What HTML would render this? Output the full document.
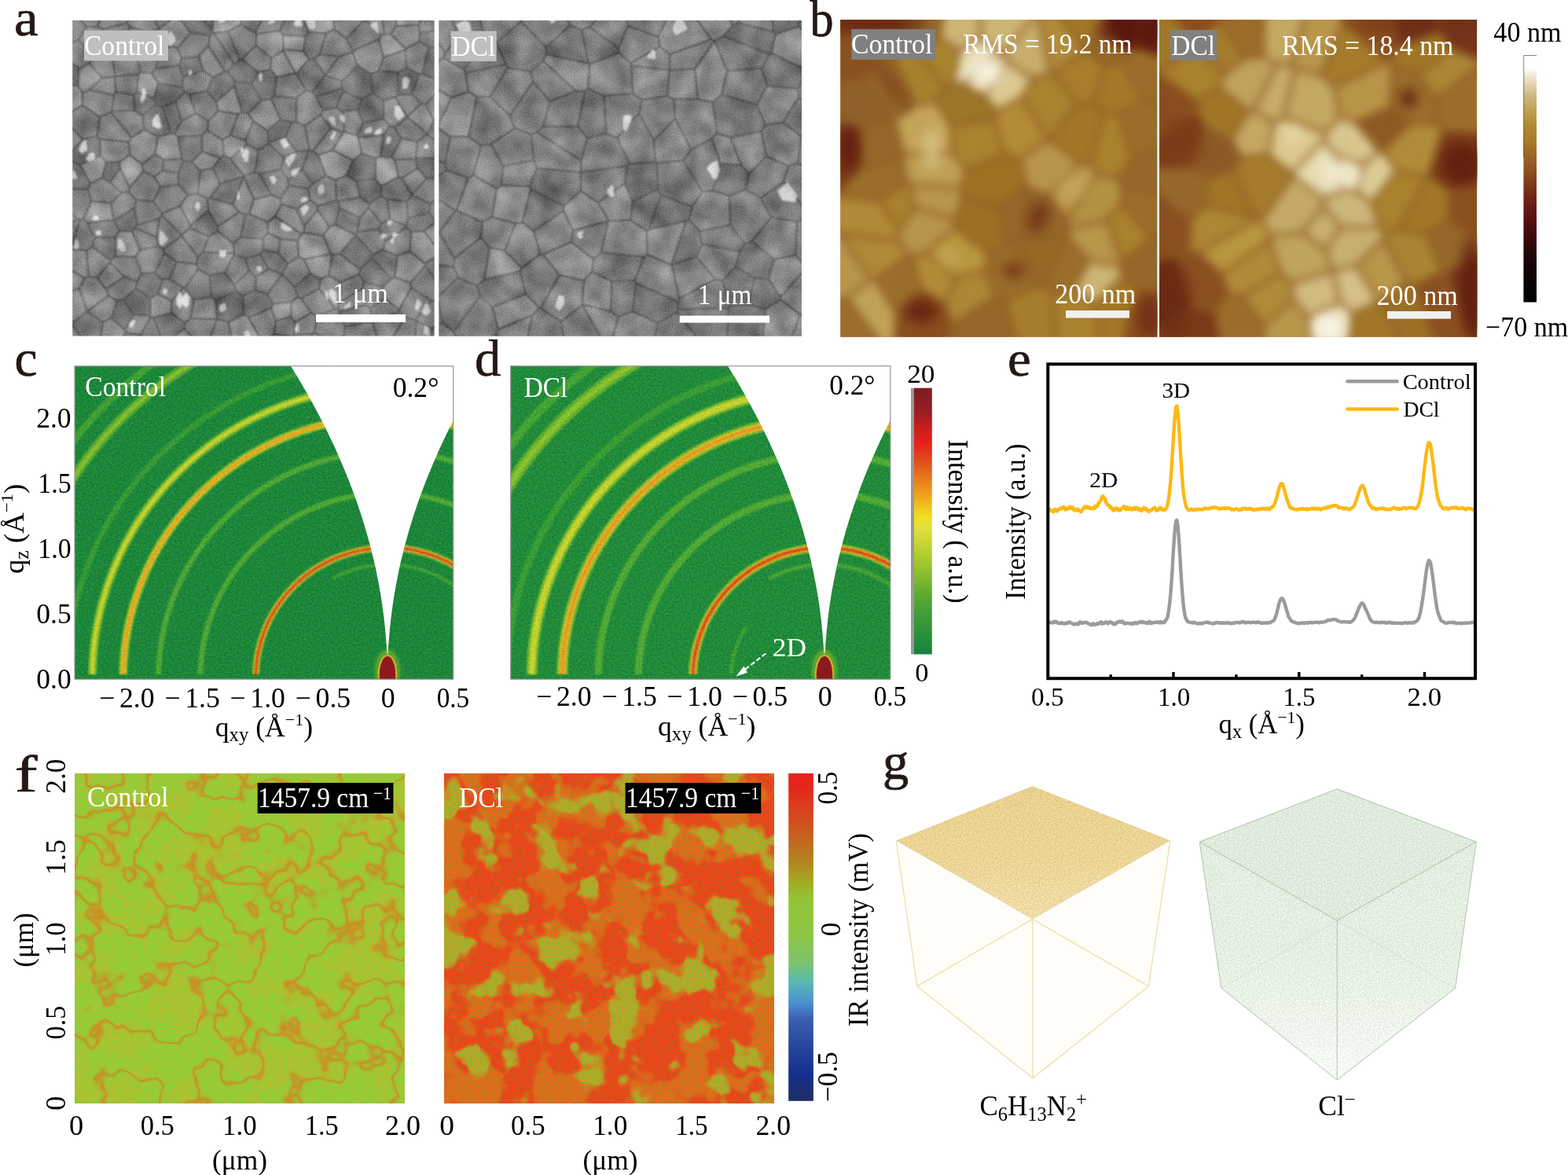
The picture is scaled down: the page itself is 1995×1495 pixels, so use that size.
<!DOCTYPE html>
<html lang="en">
<head>
<meta charset="utf-8">
<title>Figure: SEM, AFM, GIWAXS, IR and ToF-SIMS characterisation of Control and DCl films</title>
<style>
html,body{margin:0;padding:0;background:#fff;}
body{width:1995px;height:1495px;overflow:hidden;}
svg{display:block;}
text{font-family:"Liberation Serif","DejaVu Serif",serif;font-kerning:none;font-variant-ligatures:none;}
.pl{fill:#231815;stroke:#231815;stroke-width:0.7px;}
</style>
</head>
<body>
<svg width="1995" height="1495" viewBox="0 0 1995 1495">
<defs>
<filter id="semf" x="-2%" y="-2%" width="104%" height="104%" color-interpolation-filters="sRGB"><feGaussianBlur in="SourceGraphic" stdDeviation="0.9" result="b"/><feTurbulence type="fractalNoise" baseFrequency="0.035" numOctaves="2" seed="3" result="lo"/><feColorMatrix in="lo" type="matrix" values="1 0 0 0 0  1 0 0 0 0  1 0 0 0 0  0 0 0 0 1" result="log"/><feComposite in="b" in2="log" operator="arithmetic" k1="0" k2="1" k3="0.34" k4="-0.17" result="b2"/><feTurbulence type="fractalNoise" baseFrequency="0.75" numOctaves="2" seed="11" result="n"/><feColorMatrix in="n" type="matrix" values="0.5 0.5 0 0 0  0.5 0.5 0 0 0  0.5 0.5 0 0 0  0 0 0 0 1" result="ng"/><feComposite in="b2" in2="ng" operator="arithmetic" k1="0" k2="1" k3="0.36" k4="-0.18"/></filter><clipPath id="cla1"><rect x="92.2" y="26.1" width="460.5" height="401.5"/></clipPath><clipPath id="cla2"><rect x="558.3" y="26.1" width="461.7" height="401.7"/></clipPath><filter id="afmf" x="-20%" y="-20%" width="140%" height="140%" color-interpolation-filters="sRGB"><feGaussianBlur stdDeviation="6"/></filter><filter id="afmf2" x="-20%" y="-20%" width="140%" height="140%" color-interpolation-filters="sRGB"><feGaussianBlur stdDeviation="8"/></filter><clipPath id="clb1"><rect x="1069.3" y="25.1" width="403" height="403.6"/></clipPath><clipPath id="clb2"><rect x="1475" y="25.1" width="404.1" height="403.6"/></clipPath><linearGradient id="afmbar" x1="0" y1="0" x2="0" y2="1"><stop offset="0" stop-color="#ffffff"/><stop offset="0.05" stop-color="#ffffff"/><stop offset="0.095" stop-color="#ebe0c6"/><stop offset="0.158" stop-color="#d2ba84"/><stop offset="0.222" stop-color="#c0a052"/><stop offset="0.286" stop-color="#b08a32"/><stop offset="0.349" stop-color="#a87a28"/><stop offset="0.413" stop-color="#9a6424"/><stop offset="0.476" stop-color="#8a4c20"/><stop offset="0.54" stop-color="#7a3218"/><stop offset="0.604" stop-color="#6a1c14"/><stop offset="0.67" stop-color="#560e10"/><stop offset="0.728" stop-color="#400a0c"/><stop offset="0.827" stop-color="#1a0606"/><stop offset="0.954" stop-color="#050202"/><stop offset="1" stop-color="#000000"/></linearGradient><filter id="gwf" x="0" y="0" width="100%" height="100%" color-interpolation-filters="sRGB"><feGaussianBlur in="SourceGraphic" stdDeviation="0.9" result="b"/><feTurbulence type="fractalNoise" baseFrequency="0.4" numOctaves="2" seed="5" result="n"/><feColorMatrix in="n" type="matrix" values="1 0 0 0 0  0.8 0 0 0 0.1  0.3 0 0 0 0.35  0 0 0 0 1" result="nc"/><feComposite in="b" in2="nc" operator="arithmetic" k1="0" k2="1" k3="0.22" k4="-0.11"/></filter><filter id="bl2"><feGaussianBlur stdDeviation="2"/></filter><clipPath id="clipc"><rect x="95" y="465.8" width="481.79999999999995" height="398.40000000000003"/></clipPath><clipPath id="clipd"><rect x="649.7" y="465.7" width="483.20000000000005" height="398.50000000000006"/></clipPath><linearGradient id="gbar" x1="0" y1="0" x2="0" y2="1"><stop offset="0" stop-color="#7c1c22"/><stop offset="0.09" stop-color="#9a1e24"/><stop offset="0.165" stop-color="#d41e1c"/><stop offset="0.21" stop-color="#e8221a"/><stop offset="0.27" stop-color="#e04a1c"/><stop offset="0.35" stop-color="#e8801c"/><stop offset="0.41" stop-color="#f0a81c"/><stop offset="0.485" stop-color="#f0e020"/><stop offset="0.53" stop-color="#e0e040"/><stop offset="0.61" stop-color="#b8d030"/><stop offset="0.69" stop-color="#90c030"/><stop offset="0.78" stop-color="#5aa830"/><stop offset="0.87" stop-color="#3a9a38"/><stop offset="0.96" stop-color="#208a3c"/><stop offset="1" stop-color="#1a8040"/></linearGradient><filter id="irc" x="0" y="0" width="100%" height="100%" color-interpolation-filters="sRGB"><feTurbulence type="fractalNoise" baseFrequency="0.016" numOctaves="3" seed="7" result="t"/><feFlood flood-color="#98ca36" result="bg"/><feColorMatrix in="t" type="matrix" values="0 0 0 0 0.714  0 0 0 0 0.737  0 0 0 0 0.180  0 4 0 0 -1.5" result="m0"/><feComponentTransfer in="m0" result="v0"><feFuncA type="table" tableValues="0 0 0 0 0 0.2 0.4 0.5 0.5"/></feComponentTransfer><feColorMatrix in="t" type="matrix" values="0 0 0 0 0.816  0 0 0 0 0.549  0 0 0 0 0.133  4 0 0 0 -1.5" result="m1"/><feComponentTransfer in="m1" result="v1"><feFuncA type="table" tableValues="0 0 0 0.2 0.6 0.2 0 0 0"/></feComponentTransfer><feColorMatrix in="t" type="matrix" values="0 0 0 0 0.878  0 0 0 0 0.416  0 0 0 0 0.110  4 0 0 0 -1.5" result="m2"/><feComponentTransfer in="m2" result="v2"><feFuncA type="table" tableValues="0 0 0 0 0.35 0 0 0 0"/></feComponentTransfer><feMerge result="mg"><feMergeNode in="bg"/><feMergeNode in="v0"/><feMergeNode in="v1"/><feMergeNode in="v2"/></feMerge><feTurbulence type="fractalNoise" baseFrequency="0.42" numOctaves="2" seed="10" result="n"/><feColorMatrix in="n" type="matrix" values="2.0 0 0 0 -0.5  -0.8 0 0 0 0.9  0 0 0.3 0 0.35  0 0 0 0 1" result="nc"/><feComposite in="mg" in2="nc" operator="arithmetic" k1="0" k2="1" k3="0.3" k4="-0.15"/></filter><filter id="ird" x="0" y="0" width="100%" height="100%" color-interpolation-filters="sRGB"><feTurbulence type="fractalNoise" baseFrequency="0.022" numOctaves="3" seed="23" result="t"/><feFlood flood-color="#e64a1a" result="bg"/><feColorMatrix in="t" type="matrix" values="0 0 0 0 0.831  0 0 0 0 0.471  0 0 0 0 0.110  0 -4 0 0 2.5" result="m0"/><feComponentTransfer in="m0" result="v0"><feFuncA type="table" tableValues="0 0 0 0 0.2 0.5 0.7 0.8 0.8"/></feComponentTransfer><feColorMatrix in="t" type="matrix" values="0 0 0 0 0.722  0 0 0 0 0.627  0 0 0 0 0.149  3 0 0 0 -1.0" result="m1"/><feComponentTransfer in="m1" result="v1"><feFuncA type="table" tableValues="0 0 0 0 0 0 0.25 0.75 0.9"/></feComponentTransfer><feColorMatrix in="t" type="matrix" values="0 0 0 0 0.612  0 0 0 0 0.737  0 0 0 0 0.188  3 0 0 0 -1.0" result="m2"/><feComponentTransfer in="m2" result="v2"><feFuncA type="table" tableValues="0 0 0 0 0 0 0 0 0.5"/></feComponentTransfer><feMerge result="mg"><feMergeNode in="bg"/><feMergeNode in="v0"/><feMergeNode in="v1"/><feMergeNode in="v2"/></feMerge><feTurbulence type="fractalNoise" baseFrequency="0.42" numOctaves="2" seed="26" result="n"/><feColorMatrix in="n" type="matrix" values="2.0 0 0 0 -0.5  -0.8 0 0 0 0.9  0 0 0.3 0 0.35  0 0 0 0 1" result="nc"/><feComposite in="mg" in2="nc" operator="arithmetic" k1="0" k2="1" k3="0.5" k4="-0.25"/></filter><linearGradient id="irbar" x1="0" y1="0" x2="0" y2="1"><stop offset="0" stop-color="#e8241c"/><stop offset="0.04" stop-color="#e5261b"/><stop offset="0.12" stop-color="#d8441e"/><stop offset="0.2" stop-color="#c4651f"/><stop offset="0.28" stop-color="#b08a20"/><stop offset="0.34" stop-color="#a0b024"/><stop offset="0.38" stop-color="#93c435"/><stop offset="0.5" stop-color="#8cc646"/><stop offset="0.58" stop-color="#7cc270"/><stop offset="0.64" stop-color="#56b8b5"/><stop offset="0.7" stop-color="#4a90d0"/><stop offset="0.75" stop-color="#3a5fb0"/><stop offset="0.82" stop-color="#2a4a9e"/><stop offset="0.92" stop-color="#142f8c"/><stop offset="1" stop-color="#1f2f60"/></linearGradient><filter id="cubn" x="0" y="0" width="100%" height="100%" color-interpolation-filters="sRGB"><feTurbulence type="fractalNoise" baseFrequency="0.55" numOctaves="2" seed="17" result="n"/><feColorMatrix in="n" type="matrix" values="1 0 0 0 0  1 0 0 0 0  1 0 0 0 0  0 0 0 0 1" result="ng"/><feComposite in="SourceGraphic" in2="ng" operator="arithmetic" k1="0" k2="1" k3="0.22" k4="-0.11" result="c"/><feComposite in="c" in2="SourceGraphic" operator="in"/></filter><linearGradient id="c1g" x1="0" y1="0" x2="0" y2="1"><stop offset="0" stop-color="#ead08e"/><stop offset="0.6" stop-color="#ecd596"/><stop offset="1" stop-color="#f1dda8"/></linearGradient><linearGradient id="clg" x1="0" y1="0" x2="0" y2="1"><stop offset="0" stop-color="#e2eedf"/><stop offset="0.45" stop-color="#e4efe1"/><stop offset="0.75" stop-color="#edf4eb"/><stop offset="1" stop-color="#f8fbf7"/></linearGradient>
</defs>
<rect x="0" y="0" width="1995" height="1495" fill="#ffffff"/>
<g id="panel-a">
<g clip-path="url(#cla1)">
<g filter="url(#semf)">
<rect x="87.2" y="21.1" width="470.5" height="411.5" fill="#848484"/>
<path d="M227 16L226 19L202 37L201 37L188 3L213 5ZM267 45L270 42L270 38L243 8L237 6L227 16L226 19L242 42ZM546 60L537 94L554 100L576 87L575 80L562 61ZM101 87L99 109L75 107L64 100L58 89L87 77ZM286 91L271 98L263 116L275 130L298 110L299 104L290 91ZM305 76L298 81L290 91L299 104L320 106L329 92L308 75ZM344 88L329 92L320 106L333 128L345 126L349 122L352 98ZM414 96L397 117L402 123L435 113L435 103ZM472 94L474 118L460 127L436 116L435 113L435 103L455 84ZM482 90L506 92L507 121L503 124L488 128L474 118L472 94ZM507 121L524 120L533 94L517 86L506 92ZM235 117L224 129L207 136L198 133L196 125L201 106L232 111ZM308 143L298 110L299 104L320 106L333 128L316 144ZM488 128L488 151L462 157L455 139L460 127L474 118ZM183 165L181 147L198 133L207 136L218 170L201 174ZM342 181L340 166L357 152L371 156L363 174ZM86 198L89 204L102 210L128 198L127 177L124 173L105 177ZM244 206L233 205L231 202L226 174L257 172L257 193ZM153 214L140 232L130 226L135 206L152 206ZM393 191L384 215L398 234L415 224L405 197L398 192L394 191ZM453 230L478 228L478 201L460 195L449 204L441 223ZM529 201L563 202L565 226L565 227L543 227L531 214L529 202ZM453 230L478 228L485 237L485 249L470 259L458 251ZM171 264L145 281L152 294L168 294L172 290L175 286ZM147 302L147 326L141 331L117 314L120 302ZM458 343L432 323L453 299L453 299L475 324L473 328ZM457 349L463 359L487 365L498 355L473 328L458 343ZM587 356L589 353L589 332L579 321L559 322L554 327L581 354ZM267 350L286 347L298 362L301 371L274 382L269 378ZM170 400L159 420L142 405L149 382L157 381ZM173 367L157 381L170 400L191 402L191 379ZM276 406L276 406L291 410L310 400L309 376L301 371L274 382ZM66 429L92 414L93 410L81 396L60 401ZM215 434L206 433L195 404L218 398L235 411L234 418ZM192 442L188 450L168 451L156 430L160 423L179 426Z" fill="#747474" stroke="#525252" stroke-width="1.6" stroke-linejoin="round"/>
<path d="M292 6L289 -8L294 -15L303 -16L326 -3L307 24ZM100 51L110 34L100 22L82 18L77 26L82 52L89 56ZM243 8L270 38L272 17L264 3ZM393 41L389 46L360 45L356 39L365 17L377 11L381 14ZM533 53L546 60L562 61L570 42L570 36L534 42ZM231 74L228 83L233 98L259 90L253 72ZM399 75L393 75L377 94L389 115L397 117L414 96L414 96ZM181 147L198 133L196 125L174 117L170 121L171 140ZM402 123L435 113L436 116L428 137L411 140ZM222 170L231 154L224 129L207 136L218 170ZM543 171L562 186L578 160L577 153L573 150L552 154L544 170ZM502 162L496 160L488 172L484 199L498 200L511 176ZM102 210L115 233L112 241L87 240L80 231L89 204ZM244 206L233 205L227 220L227 235L239 248L252 247L255 217ZM367 229L357 215L330 221L345 248L357 253L368 236ZM419 289L404 267L404 262L428 255L430 256L432 265L426 286ZM485 284L469 264L470 259L485 249L493 254L496 280ZM524 248L517 256L519 278L546 270L547 259ZM547 259L546 270L554 283L563 285L574 258L569 245ZM277 294L277 288L265 268L242 287L241 290L266 301ZM312 273L306 302L335 304L341 296L341 282L317 272ZM426 286L432 265L458 277L455 295L453 299L453 299ZM517 289L517 287L519 278L546 270L554 283L539 294L523 295ZM498 355L502 353L506 325L487 318L475 324L473 328ZM207 355L201 374L191 379L173 367L174 358L180 348L197 347ZM247 381L269 378L267 350L252 342L235 366ZM325 369L326 352L317 344L298 362L301 371L309 376ZM587 356L586 365L561 383L556 382L554 356L581 354ZM347 387L340 374L325 369L309 376L310 400L316 404L345 392ZM509 397L474 410L474 410L471 392L490 379L508 394ZM111 396L93 410L92 414L106 433L127 438L131 410ZM206 433L195 404L192 403L179 426L192 442ZM438 426L421 435L417 449L417 449L436 457L453 447L452 441Z" fill="#7a7a7a" stroke="#525252" stroke-width="1.6" stroke-linejoin="round"/>
<path d="M534 42L532 32L535 25L535 25L570 21L572 30L570 36ZM407 69L415 42L393 41L389 46L386 65L393 75L399 75ZM119 71L134 65L142 69L147 97L146 98L130 99L113 81ZM173 71L179 92L193 93L199 87L201 70L188 58ZM267 45L270 42L272 42L298 81L290 91L286 91L265 58ZM431 72L449 66L455 84L435 103L414 96L414 96ZM170 121L147 117L146 98L147 97L176 94L174 117ZM233 98L232 111L201 106L193 93L199 87L228 83ZM542 133L536 132L524 120L533 94L537 94L554 100L554 120ZM554 120L554 100L576 87L579 89L581 92L583 124L575 130ZM377 155L371 156L357 152L345 126L349 122L377 125ZM455 139L460 127L436 116L428 137L436 142ZM454 172L456 175L488 172L496 160L488 151L462 157ZM312 179L314 184L329 191L342 183L342 181L340 166L322 154ZM342 183L361 201L378 193L363 174L342 181ZM393 191L378 193L363 174L371 156L377 155L388 160L394 191ZM310 225L280 234L271 214L280 201L285 198L293 202L311 224L310 225ZM342 183L329 191L324 219L330 221L357 215L361 201ZM393 191L378 193L361 201L357 215L367 229L384 215ZM296 260L310 225L280 234L267 252ZM524 247L511 227L507 225L485 237L485 249L493 254L517 256L524 248ZM458 251L470 259L469 264L458 277L432 265L430 256ZM145 281L152 294L147 302L120 302L111 283L145 280ZM91 317L90 315L67 301L54 320L83 334ZM111 283L106 279L102 279L90 315L91 317L110 319L117 314L120 302ZM581 354L554 327L541 335L541 338L554 356ZM379 378L375 365L359 349L340 374L347 387L371 384ZM408 355L395 348L375 365L379 378L383 380L406 367ZM487 365L490 379L471 392L464 388L461 367L463 359ZM556 382L549 383L523 366L522 360L541 338L554 356ZM149 382L142 405L131 410L111 396L111 396L138 376ZM247 381L243 405L235 411L218 398L218 383L233 366L235 366ZM265 435L275 442L296 437L291 410L276 406ZM335 434L349 425L372 428L375 448L351 461L337 451Z" fill="#7f7f7f" stroke="#525252" stroke-width="1.6" stroke-linejoin="round"/>
<path d="M571 16L536 -9L535 -9L535 25L570 21ZM324 41L344 8L328 -4L326 -3L307 24L307 31ZM489 44L497 43L504 33L504 10L501 4L495 1L485 12ZM125 34L110 34L100 51L119 71L134 65L131 37ZM189 42L188 58L201 70L218 58L202 37L201 37ZM267 45L242 42L226 61L231 74L253 72L265 58ZM305 76L298 81L272 42L290 40ZM305 76L290 40L307 31L324 41L326 43L326 58L308 75ZM425 37L415 42L407 69L431 72L449 66L449 65L441 49ZM441 49L449 65L482 50L486 45L464 25ZM173 71L179 92L176 94L147 97L142 69L159 63ZM407 69L431 72L414 96L399 75ZM482 90L506 92L517 86L516 63L488 73ZM533 53L516 62L516 63L517 86L533 94L537 94L546 60ZM233 98L232 111L235 117L241 120L263 116L271 98L259 90ZM352 98L349 122L377 125L389 115L377 94L376 93ZM171 140L170 121L147 117L145 121L142 142ZM241 120L249 144L231 154L224 129L235 117ZM241 120L249 144L265 154L278 141L275 130L263 116ZM389 115L377 125L377 155L388 160L408 146L411 140L402 123L397 117ZM518 149L536 132L524 120L507 121L503 124L518 149ZM542 133L552 154L573 150L575 130L554 120ZM74 166L55 142L57 139L74 135L92 141L87 158ZM87 158L92 141L105 134L127 149L124 173L105 177ZM183 165L181 147L171 140L142 142L141 143L167 175ZM222 170L226 174L257 172L264 166L265 154L249 144L231 154ZM312 179L322 154L316 144L308 143L303 145L293 172ZM454 172L462 157L455 139L436 142L438 168ZM518 149L544 170L543 171L531 180L511 176L502 162L518 149ZM529 201L531 180L543 171L562 186L566 192L563 202ZM197 196L181 209L182 218L196 225L207 217L208 203ZM208 203L231 202L233 205L227 220L207 217ZM529 202L502 203L507 225L511 227L531 214ZM155 245L140 232L130 226L115 233L112 241L116 256L141 258ZM153 214L140 232L155 245L164 244L165 239ZM196 225L204 238L227 235L227 220L207 217ZM267 252L280 234L271 214L255 217L252 247L264 253ZM323 254L345 248L330 221L324 219L311 224L310 225ZM384 215L367 229L368 236L392 240L398 234ZM543 227L524 247L524 248L547 259L569 245L570 238L569 231L565 227ZM82 252L87 240L112 241L116 256L106 279L102 279L99 279L86 268ZM173 254L164 244L155 245L141 258L145 280L145 281L171 264ZM206 274L203 278L175 286L171 264L173 254L195 256L206 272ZM206 272L229 262L239 248L227 235L204 238L195 256ZM368 236L357 253L358 260L377 266L395 254L392 240ZM404 262L404 267L387 288L377 266L395 254ZM496 280L493 254L517 256L519 278L517 287ZM59 273L56 280L56 284L67 296L99 279L86 268ZM99 279L67 296L67 301L90 315L102 279ZM203 278L199 302L172 290L175 286ZM297 310L306 302L312 273L304 270L277 288L277 294ZM490 307L517 289L517 287L496 280L485 284L482 291ZM172 290L199 302L202 313L178 318L168 294ZM258 321L252 327L231 300L231 299L241 290L266 301ZM298 322L298 324L312 329L331 324L335 318L335 304L306 302L297 310ZM357 304L341 296L335 304L335 318L354 322ZM487 318L490 307L482 291L455 295L453 299L475 324ZM487 318L506 325L522 320L523 295L517 289L490 307ZM174 358L158 352L140 334L141 331L147 326L172 327L180 348ZM209 322L208 317L202 313L178 318L172 327L180 348L197 347ZM207 355L197 347L209 322L225 333L215 355ZM235 366L233 366L215 355L225 333L250 336L252 342ZM267 350L286 347L298 324L298 322L258 321L252 327L250 336L252 342ZM298 324L286 347L298 362L317 344L312 329ZM312 329L317 344L326 352L342 342L331 324ZM366 335L359 349L342 342L331 324L335 318L354 322ZM395 348L387 330L380 326L366 335L359 349L359 349L375 365ZM457 349L433 359L418 350L423 324L432 323L458 343ZM108 354L101 367L77 375L65 357L83 339ZM173 367L157 381L149 382L138 376L135 368L158 352L174 358ZM207 355L201 374L218 383L233 366L215 355ZM340 374L359 349L359 349L342 342L326 352L325 369ZM427 393L403 402L396 398L383 380L406 367ZM474 410L439 415L432 396L464 388L471 392ZM509 397L515 404L528 407L549 383L523 366L508 394ZM556 382L549 383L528 407L529 408L550 418L574 407L561 383ZM179 426L160 423L159 420L170 400L191 402L192 403ZM252 437L265 435L276 406L276 406L243 405L235 411L234 418ZM345 392L351 408L349 425L335 434L332 432L316 404ZM429 393L427 393L403 402L400 423L421 435L438 426L439 415L432 396ZM474 410L480 429L452 441L438 426L439 415L474 410ZM515 404L528 407L529 408L528 440L524 442L497 434ZM529 408L528 440L549 444L550 442L550 418ZM585 418L585 413L574 407L550 418L550 442L570 437ZM66 429L92 414L106 433L94 454L78 449L65 430ZM417 449L394 450L397 424L400 423L421 435ZM480 429L491 436L491 442L467 474L453 447L452 441Z" fill="#848484" stroke="#525252" stroke-width="1.6" stroke-linejoin="round"/>
<path d="M535 -9L535 25L535 25L504 10L501 4L529 -9ZM125 34L110 34L100 22L113 -4L129 12ZM326 43L356 39L365 17L347 8L344 8L324 41ZM431 11L458 11L464 20L464 25L441 49L425 37L424 19ZM119 71L100 51L89 56L87 77L101 87L113 81ZM231 74L228 83L199 87L201 70L218 58L226 61ZM482 90L488 73L482 50L449 65L449 66L455 84L472 94ZM141 143L127 149L105 134L105 118L114 114L145 121L142 142ZM167 175L141 143L127 149L124 173L127 177L164 181ZM293 172L283 178L264 166L265 154L278 141L303 145ZM394 191L388 160L408 146L421 163L398 192ZM264 166L257 172L257 193L280 201L285 198L283 178ZM398 192L421 163L437 168L423 191L405 197ZM529 201L531 180L511 176L498 200L502 203L529 202ZM314 184L293 202L311 224L324 219L329 191ZM196 225L204 238L195 256L173 254L164 244L165 239L182 218ZM398 234L392 240L395 254L404 262L428 255L427 229L415 224ZM453 230L458 251L430 256L428 255L427 229L441 223ZM531 214L511 227L524 247L543 227ZM265 268L242 287L229 262L239 248L252 247L264 253ZM296 260L267 252L264 253L265 268L277 288L304 270ZM206 274L231 299L231 300L208 317L202 313L199 302L203 278ZM206 274L231 299L241 290L242 287L229 262L206 272ZM379 306L384 298L350 275L341 282L341 296L357 304ZM419 289L404 267L387 288L387 296L411 300ZM482 291L485 284L469 264L458 277L455 295ZM558 319L567 289L563 285L554 283L539 294ZM225 333L250 336L252 327L231 300L208 317L209 322ZM110 319L113 352L108 354L83 339L83 334L91 317ZM110 319L117 314L141 331L140 334L124 353L113 352ZM113 352L124 353L135 368L138 376L111 396L101 367L108 354ZM457 349L433 359L432 385L461 367L463 359ZM111 396L93 410L81 396L76 379L77 375L101 367L111 396ZM461 367L432 385L429 393L432 396L464 388ZM156 430L160 423L159 420L142 405L131 410L127 438L130 440ZM375 410L374 427L372 428L349 425L351 408L370 403ZM400 423L397 424L374 427L375 410L396 398L403 402ZM509 397L515 404L497 434L491 436L480 429L474 410ZM397 424L394 450L387 456L375 448L372 428L374 427Z" fill="#888888" stroke="#525252" stroke-width="1.6" stroke-linejoin="round"/>
<path d="M162 29L131 37L125 34L129 12L148 3L163 20ZM162 29L165 34L189 42L201 37L188 3L185 1L163 20ZM464 20L485 12L489 44L486 45L464 25ZM162 29L165 34L159 63L142 69L134 65L131 37ZM165 34L159 63L173 71L188 58L189 42ZM226 61L218 58L202 37L226 19L242 42ZM326 58L345 74L360 64L361 63L360 45L356 39L326 43ZM533 53L516 62L497 43L504 33L532 32L534 42ZM265 58L286 91L271 98L259 90L253 72ZM308 75L329 92L344 88L345 74L326 58ZM345 74L344 88L352 98L376 93L360 64ZM113 81L130 99L114 114L105 118L99 109L101 87ZM147 117L146 98L130 99L114 114L145 121ZM196 125L201 106L193 93L179 92L176 94L174 117ZM518 149L503 124L488 128L488 151L496 160L502 162ZM322 154L340 166L357 152L345 126L333 128L316 144ZM437 168L438 168L436 142L428 137L411 140L408 146L421 163ZM518 149L536 132L542 133L552 154L544 170ZM74 166L70 174L69 191L86 198L105 177L87 158ZM152 206L135 206L128 198L127 177L164 181L165 197ZM197 196L201 174L183 165L167 175L164 181L165 197L181 209ZM312 179L314 184L293 202L285 198L283 178L293 172ZM488 172L484 199L478 201L460 195L456 175ZM141 258L116 256L106 279L111 283L145 280ZM296 260L310 225L310 225L323 254L317 272L312 273L304 270ZM387 296L384 298L350 275L358 260L377 266L387 288ZM298 322L258 321L266 301L277 294L297 310ZM379 306L380 326L366 335L354 322L357 304ZM423 324L432 323L453 299L426 286L419 289L411 300L421 323ZM506 325L502 353L522 360L541 338L541 335L522 320ZM140 334L124 353L135 368L158 352ZM432 385L433 359L418 350L408 355L406 367L427 393L429 393ZM195 404L218 398L218 383L201 374L191 379L191 402L192 403ZM247 381L243 405L276 406L274 382L269 378ZM371 384L347 387L345 392L351 408L370 403ZM379 378L371 384L370 403L375 410L396 398L383 380ZM215 434L234 418L252 437L246 455L222 449Z" fill="#8d8d8d" stroke="#525252" stroke-width="1.6" stroke-linejoin="round"/>
<path d="M290 40L272 42L270 42L270 38L272 17L292 6L307 24L307 31ZM424 19L418 16L381 14L393 41L415 42L425 37ZM504 10L504 33L532 32L535 25ZM389 46L360 45L361 63L386 65ZM488 73L516 63L516 62L497 43L489 44L486 45L482 50ZM360 64L361 63L386 65L393 75L377 94L376 93ZM75 107L99 109L105 118L105 134L92 141L74 135ZM308 143L298 110L275 130L278 141L303 145ZM197 196L201 174L218 170L222 170L226 174L231 202L208 203ZM423 191L449 204L460 195L456 175L454 172L438 168L437 168ZM130 226L115 233L102 210L128 198L135 206ZM181 209L165 197L152 206L153 214L165 239L182 218ZM244 206L257 193L280 201L271 214L255 217ZM405 197L423 191L449 204L441 223L427 229L415 224ZM498 200L484 199L478 201L478 228L485 237L507 225L502 203ZM317 272L341 282L350 275L358 260L357 253L345 248L323 254ZM168 294L178 318L172 327L147 326L147 302L152 294ZM421 323L387 330L380 326L379 306L384 298L387 296L411 300ZM522 320L541 335L554 327L559 322L558 319L539 294L523 295ZM408 355L395 348L387 330L421 323L423 324L418 350ZM487 365L490 379L508 394L523 366L522 360L502 353L498 355ZM316 404L332 432L297 438L296 437L291 410L310 400Z" fill="#949494" stroke="#525252" stroke-width="1.6" stroke-linejoin="round"/>
<path d="M326 26L332 16L327 13L327 13L321 21L321 23ZM185 126L186 119L185 113L182 112L181 113L180 123ZM446 383L438 390L437 393L438 394L447 391ZM540 413L539 425L546 427L546 426L546 417ZM301 251L303 241L303 241L305 250L304 255L304 255L302 254ZM533 8L533 17L533 17L526 13L525 11L531 8ZM377 195L371 196L364 200L363 206L367 213L373 206ZM332 92L330 93L329 97L331 104L333 103L333 102L334 95ZM393 263L393 266L386 275L382 265L389 260ZM232 378L231 389L229 393L224 386L224 379L228 371L229 371ZM341 31L349 29L351 22L346 19L346 19L341 30ZM95 218L98 225L97 228L92 227L91 225L92 216ZM316 421L320 430L312 431L312 431L310 423L315 420ZM242 379L240 389L237 392L231 386L231 379L237 372L237 372ZM496 174L494 173L492 176L491 183L495 183L498 177ZM420 176L425 166L428 168L425 176L421 178ZM282 328L286 327L289 319L289 319L280 318L279 320L279 323L279 325ZM371 294L372 291L360 283L357 285L357 290L363 294ZM90 360L88 365L80 367L77 361L83 355ZM236 441L240 436L243 442L242 446L237 445ZM543 386L541 386L536 397L536 397L542 402L548 397L545 387ZM194 160L194 152L199 145L202 146L206 162L201 164ZM382 213L377 214L372 216L370 221L373 225L379 221ZM380 422L379 422L375 423L375 416L379 411L380 413ZM125 275L119 274L117 280L118 281L126 281ZM428 383L428 371L422 367L419 369L418 375L426 387L426 387ZM158 49L160 51L157 64L150 67L146 65L145 53ZM539 189L540 184L542 182L545 185L546 187L545 189ZM194 44L193 50L198 55L203 51L198 42L198 42ZM255 264L251 270L248 262L250 257L253 257L255 259ZM439 157L439 157L439 148L437 146L432 147L432 149L435 155ZM169 416L164 415L164 414L167 408L173 408L173 408ZM515 147L508 134L502 136L502 147L505 152L508 153ZM205 293L214 304L214 305L205 313L203 311L202 306L204 294ZM494 288L500 283L500 282L496 280L493 281L493 284ZM109 202L110 204L113 206L121 202L120 195L119 194L114 195ZM356 180L362 189L368 185L363 175L356 178ZM501 303L507 298L507 298L502 296L500 297L499 299ZM285 28L279 29L279 29L278 27L279 17L285 11L290 20L290 23ZM471 31L480 27L482 42L481 43L471 33ZM155 304L157 314L156 318L150 317L150 307L151 304ZM463 169L464 170L472 169L474 165L472 161L465 164ZM181 131L184 126L184 123L180 121L179 122L179 129ZM88 353L86 357L79 360L75 354L81 349ZM385 250L382 255L382 256L387 258L392 255L391 251ZM497 308L499 310L501 309L501 302L501 301L497 305ZM208 367L207 373L210 375L214 370L210 367ZM279 396L279 396L283 397L288 394L287 387L286 385L279 388ZM240 89L240 92L240 97L245 94L244 89ZM326 339L327 344L330 346L334 343L331 338ZM351 227L349 223L342 225L346 233L349 235L352 229ZM218 59L214 58L208 48L218 39L224 50ZM528 392L529 394L532 396L537 386L531 379L528 390ZM401 26L399 25L389 24L392 36L398 37L401 35ZM208 18L208 19L202 23L202 23L199 15L205 15ZM426 160L427 159L426 150L424 148L418 149L418 151L422 158ZM99 306L97 304L96 304L93 316L93 316L98 317L100 316L101 312ZM158 309L160 317L159 320L153 320L153 311L155 309ZM417 379L417 371L415 369L414 370L413 374L416 382L417 382ZM313 189L307 197L312 207L316 205L317 192ZM405 238L404 240L404 245L407 248L413 245L412 236L409 234ZM100 190L101 193L104 196L111 191L110 180L110 178L105 180ZM512 113L518 113L522 101L516 97L512 100ZM207 296L212 305L212 305L208 312L206 311L206 306L207 297ZM214 12L214 14L206 21L205 21L201 7L210 8ZM310 189L311 190L307 195L306 194L306 188L307 187ZM476 171L477 172L484 171L486 167L484 163L478 166ZM128 293L129 297L128 299L123 299L121 294L128 293ZM385 32L384 34L375 33L374 31L377 20L381 18L382 19ZM486 305L493 300L493 299L488 297L485 298L484 300Z" fill="#e0e0e0" opacity="0.8"/>
</g></g>
<g clip-path="url(#cla2)">
<g filter="url(#semf)">
<rect x="553.3" y="21.1" width="471.7" height="411.7" fill="#828282"/>
<path d="M593 5L569 14L584 46L617 49L607 9ZM979 3L1002 -13L1020 -0L1016 34L987 43L984 40ZM590 88L619 51L617 49L584 46L566 67L564 74ZM787 67L750 82L749 81L740 38L750 34L787 61ZM979 69L981 67L987 43L984 40L939 29L932 33L920 46ZM969 87L976 109L1015 113L1028 90L981 67L979 69ZM1065 109L1033 87L1028 90L1015 113L1016 124L1047 145L1065 119ZM735 161L744 116L748 113L769 122L771 170L747 176ZM912 170L907 130L918 120L963 133L974 159L969 167L929 175ZM674 237L683 214L739 219L739 219L739 243L718 262L675 241ZM795 233L798 211L801 208L834 206L836 207L837 240L805 256ZM943 210L953 221L949 241L928 249L907 243L917 208ZM679 294L664 283L675 241L718 262L717 268ZM805 256L837 240L841 248L826 292L823 294L802 280ZM826 292L841 248L881 263L877 279L873 281ZM893 311L890 294L877 279L873 281L854 337L855 337L886 327ZM941 320L948 310L929 286L890 294L893 311ZM936 339L960 354L978 355L985 330L957 307L948 310L941 320ZM863 394L862 397L837 411L805 396L809 360L863 384ZM936 339L960 354L952 387L929 389L919 357ZM929 389L927 392L925 429L970 435L974 393L952 387Z" fill="#767676" stroke="#525252" stroke-width="1.6" stroke-linejoin="round"/>
<path d="M552 -5L522 -17L511 -10L502 30L519 39L544 33L563 13ZM795 4L793 11L799 33L837 47L857 9L797 3ZM1045 55L1016 34L1020 -0L1045 -8L1064 3ZM592 93L644 82L632 54L619 51L590 88ZM695 69L749 81L740 38L725 32L695 60ZM969 87L925 90L909 52L920 46L979 69ZM1016 124L996 156L1019 173L1050 163L1050 162L1047 145ZM836 207L869 204L894 244L881 263L841 248L837 240ZM906 176L879 190L869 204L894 244L907 243L917 208ZM981 277L968 252L997 231L1023 264L1021 278L1021 279L1014 282ZM778 358L808 357L820 327L765 321L755 330L753 346ZM611 376L577 422L563 411L556 379L583 353L607 364ZM611 376L627 391L669 374L662 345L616 356L607 364ZM777 396L787 403L805 396L809 360L808 357L778 358ZM919 357L929 389L927 392L863 394L863 384L864 380L910 355ZM952 387L974 393L993 381L993 378L978 355L960 354ZM611 376L627 391L634 419L632 425L592 446L586 442L577 422ZM862 397L892 436L862 458L829 446L837 411Z" fill="#7a7a7a" stroke="#525252" stroke-width="1.6" stroke-linejoin="round"/>
<path d="M793 11L762 22L750 34L787 61L799 33ZM644 82L646 86L675 91L691 77L695 69L695 60L663 27L632 54ZM691 77L733 116L700 129L678 104L675 91ZM969 87L976 109L963 133L918 120L925 90ZM607 123L624 123L649 147L655 163L625 183L612 185L596 174ZM530 162L525 168L524 192L566 208L573 174L556 162ZM747 176L771 170L785 175L801 208L798 211L739 219L739 219L739 204ZM1050 163L1060 191L1033 217L1015 208L1019 173ZM581 268L579 268L538 240L568 216L596 226ZM602 223L612 185L625 183L640 211L638 236L632 240ZM761 258L795 233L798 211L739 219L739 243ZM949 241L968 252L997 231L1004 211L975 199L953 221ZM928 249L929 286L948 310L957 307L981 277L968 252L949 241ZM614 282L612 302L578 329L559 296L579 268L581 268ZM729 293L774 281L765 321L755 330L727 308ZM1030 342L1063 317L1021 279L1014 282L1012 325L1026 341ZM583 353L577 339L542 337L522 349L534 374L556 379ZM668 446L684 450L718 437L714 409L688 392L686 392L677 401ZM733 452L718 437L714 409L741 388L770 439L758 447ZM632 425L656 448L648 473L639 481L598 469L592 446Z" fill="#7e7e7e" stroke="#525252" stroke-width="1.6" stroke-linejoin="round"/>
<path d="M607 9L617 49L619 51L632 54L663 27L665 7L649 -11L643 -13ZM699 -1L665 7L663 27L695 60L725 32L714 4ZM738 -14L762 22L750 34L740 38L725 32L714 4ZM979 3L984 40L939 29L956 -2ZM840 59L837 47L799 33L787 61L787 67L802 80ZM852 89L803 84L802 80L840 59L852 69ZM884 88L909 52L905 50L852 69L852 89L852 89ZM596 117L592 93L644 82L646 86L624 123L607 123ZM646 86L624 123L649 147L678 104L675 91ZM852 89L852 89L803 84L805 119L817 127L849 122ZM575 124L556 162L530 162L523 141L539 103ZM683 168L676 171L655 163L649 147L678 104L700 129L691 161ZM691 161L700 129L733 116L744 116L735 161ZM805 119L769 122L771 170L785 175L813 144L817 127ZM849 122L817 127L813 144L832 179L859 151L857 126ZM888 126L907 130L912 170L906 176L879 190L859 151L857 126ZM1016 124L996 156L974 159L963 133L976 109L1015 113ZM596 226L568 216L566 208L573 174L596 174L612 185L602 223ZM640 211L625 183L655 163L676 171L679 204ZM683 168L676 171L679 204L683 214L739 219L739 204ZM683 168L739 204L747 176L735 161L691 161ZM801 208L834 206L832 179L813 144L785 175ZM929 175L969 167L975 199L953 221L943 210ZM524 192L515 229L528 239L538 240L568 216L566 208ZM638 236L640 211L679 204L683 214L674 237ZM579 268L538 240L528 239L521 293L534 297L559 296ZM559 296L534 297L542 337L577 339L578 329ZM985 330L957 307L981 277L1014 282L1012 325ZM607 364L616 356L623 315L612 302L578 329L577 339L583 353ZM669 374L686 392L688 392L712 350L691 324L687 323L664 341L662 345ZM886 327L855 337L864 380L910 355ZM936 339L919 357L910 355L886 327L893 311L941 320ZM777 396L787 403L778 435L770 439L741 388L741 387ZM927 392L925 429L911 441L892 436L862 397L863 394ZM1018 400L1001 445L1026 458L1067 425L1066 420L1042 397Z" fill="#828282" stroke="#525252" stroke-width="1.6" stroke-linejoin="round"/>
<path d="M803 84L805 119L769 122L748 113L750 82L787 67L802 80ZM884 88L852 89L849 122L857 126L888 126ZM969 167L974 159L996 156L1019 173L1015 208L1004 211L975 199ZM1015 208L1004 211L997 231L1023 264L1041 231L1033 217ZM761 258L795 233L805 256L802 280L774 281ZM928 249L929 286L890 294L877 279L881 263L894 244L907 243ZM1073 270L1066 237L1041 231L1023 264L1021 278ZM729 293L717 268L679 294L687 323L691 324L727 308ZM765 321L820 327L824 324L823 294L802 280L774 281L774 281ZM863 384L809 360L808 357L820 327L824 324L854 337L855 337L864 380ZM556 379L534 374L512 396L529 420L563 411ZM741 387L741 388L714 409L688 392L712 350L743 357ZM805 396L787 403L778 435L817 455L829 446L837 411ZM993 381L974 393L970 435L978 443L994 446L1001 445L1018 400Z" fill="#858585" stroke="#525252" stroke-width="1.6" stroke-linejoin="round"/>
<path d="M584 46L566 67L544 33L563 13L569 14ZM852 69L905 50L875 9L861 7L857 9L837 47L840 59ZM537 89L529 85L519 39L544 33L566 67L564 74ZM575 124L596 117L592 93L590 88L564 74L537 89L539 103ZM695 69L749 81L750 82L748 113L744 116L733 116L691 77ZM834 206L832 179L859 151L879 190L869 204L836 207ZM626 276L632 240L602 223L596 226L581 268L614 282ZM626 276L656 284L642 319L623 315L612 302L614 282ZM687 323L664 341L642 319L656 284L664 283L679 294ZM826 292L873 281L854 337L824 324L823 294ZM1083 277L1085 290L1075 316L1063 317L1021 279L1021 278L1073 270ZM1026 341L1012 325L985 330L978 355L993 378ZM1030 342L1049 369L1042 397L1018 400L993 381L993 378L1026 341ZM577 422L586 442L545 459L528 423L529 420L563 411ZM632 425L656 448L668 446L677 401L634 419ZM954 478L978 443L970 435L925 429L911 441L915 459L941 475Z" fill="#898989" stroke="#525252" stroke-width="1.6" stroke-linejoin="round"/>
<path d="M932 33L939 29L956 -2L948 -18L932 -24L915 -17ZM909 52L909 52L920 46L932 33L915 -17L898 -18L875 9L905 50ZM1045 56L1033 87L1028 90L981 67L987 43L1016 34L1045 55ZM884 88L909 52L909 52L925 90L918 120L907 130L888 126ZM575 124L596 117L607 123L596 174L573 174L556 162ZM912 170L929 175L943 210L917 208L906 176ZM626 276L656 284L664 283L675 241L674 237L638 236L632 240ZM729 293L717 268L718 262L739 243L761 258L774 281L774 281ZM662 345L664 341L642 319L623 315L616 356ZM753 346L755 330L727 308L691 324L712 350L743 357ZM627 391L669 374L686 392L677 401L634 419ZM777 396L778 358L753 346L743 357L741 387Z" fill="#8e8e8e" stroke="#525252" stroke-width="1.6" stroke-linejoin="round"/>
<path d="M834 76L823 74L823 72L831 62L834 67ZM772 242L779 234L781 241L781 250L775 250ZM912 204L903 209L899 214L908 228L912 228L916 216ZM995 253L992 246L999 239L1006 249L1006 253L1006 253L1004 254ZM801 146L793 147L793 165L797 167L803 155L804 149ZM995 255L989 243L1002 232L1014 248L1013 255L1013 256L1010 257ZM552 281L542 270L540 270L538 291L541 293L547 292ZM591 26L580 31L586 46L602 47L597 28ZM735 296L742 293L741 303L739 305L734 300ZM704 5L694 8L694 17L703 31L712 19L709 7ZM860 45L875 37L867 21L863 20L862 21L856 36L857 41ZM718 388L717 388L712 396L706 390L711 375L718 377ZM624 441L627 447L626 453L625 455L620 452L620 446ZM1072 273L1073 279L1071 289L1069 289L1061 274L1061 274L1070 271Z" fill="#e0e0e0" opacity="0.8"/>
</g></g>
<rect x="107" y="38.7" width="107" height="38.6" fill="#c0bfbd"/>
<rect x="573.7" y="39.5" width="58" height="38.4" fill="#c0bfbd"/>
<rect x="402" y="400" width="114" height="10" fill="#fff"/>
<rect x="864.7" y="401.6" width="114.3" height="9" fill="#fff"/>
</g>
<g id="panel-b">
<g clip-path="url(#clb1)">
<rect x="1069.3" y="25.1" width="403" height="403.6" fill="#905c24"/>
<g filter="url(#afmf)" stroke="#905c24" stroke-width="4" stroke-linejoin="round">
<path d="M1221 65L1195 48L1213 -53L1246 -42L1248 48Z" fill="#cdb576"/>
<path d="M1276 70L1320 15L1326 -12L1324 -46L1246 -42L1248 48L1273 69Z" fill="#cdb576"/>
<path d="M1276 70L1320 15L1336 93L1313 100L1281 78Z" fill="#c8ae6c"/>
<path d="M1378 63L1340 94L1336 93L1320 15L1326 -12L1378 63Z" fill="#b08c3c"/>
<path d="M1378 63L1407 27L1418 -44L1329 -50L1324 -46L1326 -12Z" fill="#a07628"/>
<path d="M1136 71L1120 75L1027 -18L1095 -51L1136 -42L1150 58Z" fill="#8a5020"/>
<path d="M1120 75L1027 -18L1026 -18L993 51L1008 113L1098 101Z" fill="#8a5020"/>
<path d="M1165 61L1195 48L1213 -53L1212 -54L1136 -42L1150 58Z" fill="#94682a"/>
<path d="M1191 129L1163 134L1136 71L1150 58L1165 61L1203 112Z" fill="#a6822e"/>
<path d="M1203 112L1213 106L1221 65L1195 48L1165 61Z" fill="#a88430"/>
<path d="M1163 134L1139 153L1134 152L1098 101L1120 75L1136 71Z" fill="#94682a"/>
<path d="M1098 101L1008 113L1004 140L1095 163L1134 152Z" fill="#90602a"/>
<path d="M1139 153L1134 152L1095 163L1095 215L1148 200L1150 197Z" fill="#946828"/>
<path d="M1118 255L1063 249L1095 215L1148 200L1154 231Z" fill="#9a6e2a"/>
<path d="M1063 249L1019 267L1013 267L990 168L1004 140L1095 163L1095 215Z" fill="#7a3a18"/>
<path d="M1191 129L1210 160L1210 193L1150 197L1139 153L1163 134Z" fill="#c4a458"/>
<path d="M1210 193L1150 197L1148 200L1154 231L1157 234L1223 239L1229 216Z" fill="#c0a054"/>
<path d="M1225 251L1215 279L1164 264L1157 234L1223 239Z" fill="#b8964a"/>
<path d="M1278 196L1229 216L1210 193L1210 160L1265 151Z" fill="#a8842f"/>
<path d="M1252 121L1268 141L1265 151L1210 160L1191 129L1203 112L1213 106L1226 107Z" fill="#9c7628"/>
<path d="M1300 124L1333 178L1297 203L1278 196L1265 151L1268 141Z" fill="#b28c36"/>
<path d="M1340 94L1370 132L1335 178L1333 178L1300 124L1313 100L1336 93Z" fill="#a88430"/>
<path d="M1252 121L1281 78L1276 70L1273 69L1226 107Z" fill="#e2d4a0"/>
<path d="M1226 107L1213 106L1221 65L1248 48L1273 69Z" fill="#e6dab0"/>
<path d="M1252 121L1268 141L1300 124L1313 100L1281 78Z" fill="#dcc890"/>
<path d="M1391 134L1406 143L1424 145L1456 129L1427 78L1406 83Z" fill="#a27a2a"/>
<path d="M1378 63L1406 83L1391 134L1370 132L1340 94Z" fill="#a67e2c"/>
<path d="M1427 78L1456 129L1533 129L1539 92L1444 62L1433 67Z" fill="#9a6e2a"/>
<path d="M1386 210L1406 143L1424 145L1440 201L1423 229L1397 220Z" fill="#a8822e"/>
<path d="M1386 210L1406 143L1391 134L1370 132L1335 178L1375 208Z" fill="#a07828"/>
<path d="M1424 145L1456 129L1533 129L1548 168L1440 201Z" fill="#9a6e2a"/>
<path d="M1386 210L1397 220L1358 279L1334 249L1375 208Z" fill="#bc9a4c"/>
<path d="M1309 240L1334 249L1375 208L1335 178L1333 178L1297 203L1307 238Z" fill="#b8944a"/>
<path d="M1397 220L1423 229L1428 239L1426 259L1408 280L1361 291L1358 279Z" fill="#b49244"/>
<path d="M1307 238L1297 203L1278 196L1229 216L1223 239L1225 251L1270 263Z" fill="#9c7224"/>
<path d="M1282 310L1257 323L1215 290L1215 279L1225 251L1270 263Z" fill="#9a7024"/>
<path d="M1309 240L1303 303L1292 310L1282 310L1270 263L1307 238Z" fill="#94682a"/>
<path d="M1118 255L1063 249L1019 267L1068 297L1144 307L1144 292Z" fill="#b08a38"/>
<path d="M1156 325L1114 356L1108 356L1068 297L1144 307Z" fill="#b08a38"/>
<path d="M1164 264L1144 292L1118 255L1154 231L1157 234Z" fill="#a8822e"/>
<path d="M1215 279L1215 290L1179 321L1161 326L1156 325L1144 307L1144 292L1164 264Z" fill="#b8944a"/>
<path d="M1215 290L1179 321L1216 354L1253 344L1257 323Z" fill="#b8963e"/>
<path d="M1253 344L1216 354L1202 387L1212 413L1267 377Z" fill="#ac8836"/>
<path d="M1161 326L1171 368L1202 387L1216 354L1179 321Z" fill="#b08c38"/>
<path d="M1292 310L1322 363L1327 363L1358 301L1357 300L1303 303Z" fill="#946a24"/>
<path d="M1309 240L1334 249L1358 279L1361 291L1357 300L1303 303Z" fill="#94682a"/>
<path d="M1357 300L1361 291L1408 280L1427 334L1425 339L1385 332L1358 301Z" fill="#b8964a"/>
<path d="M1426 259L1465 303L1427 334L1408 280Z" fill="#a8822e"/>
<path d="M1428 239L1543 251L1552 286L1545 300L1465 303L1426 259Z" fill="#9a6e2a"/>
<path d="M1114 356L1141 401L1136 457L1078 380L1108 356Z" fill="#c0a256"/>
<path d="M1108 356L1078 380L998 380L999 286L1013 267L1019 267L1068 297Z" fill="#b8964a"/>
<path d="M1078 380L998 380L988 403L1012 485L1095 506L1141 484L1136 457Z" fill="#9a6e2a"/>
<path d="M1141 401L1171 368L1202 387L1212 413L1195 490L1141 484L1136 457Z" fill="#8a4e1e"/>
<path d="M1156 325L1114 356L1141 401L1171 368L1161 326Z" fill="#9a6e2a"/>
<path d="M1292 310L1322 363L1278 382L1267 377L1253 344L1257 323L1282 310Z" fill="#9a6e2a"/>
<path d="M1327 363L1340 374L1346 490L1329 497L1311 492L1278 382L1322 363Z" fill="#a47e2c"/>
<path d="M1366 368L1340 374L1346 490L1405 484L1394 387Z" fill="#a8822e"/>
<path d="M1394 387L1405 484L1411 485L1449 370L1429 351Z" fill="#a07828"/>
<path d="M1278 382L1311 492L1212 501L1195 490L1212 413L1267 377Z" fill="#946828"/>
<path d="M1366 368L1385 332L1425 339L1429 351L1394 387Z" fill="#ccb472"/>
<path d="M1327 363L1340 374L1366 368L1385 332L1358 301Z" fill="#9a6e2a"/>
<path d="M1449 370L1542 374L1553 403L1524 481L1447 500L1411 485Z" fill="#8a4e1e"/>
<path d="M1465 303L1545 300L1542 374L1449 370L1429 351L1425 339L1427 334Z" fill="#94682a"/>
<path d="M1433 67L1444 62L1472 -41L1447 -52L1418 -44L1407 27Z" fill="#5e1a0e"/>
<path d="M1444 62L1472 -41L1526 -28L1554 51L1539 92Z" fill="#641e10"/>
<path d="M1378 63L1406 83L1427 78L1433 67L1407 27L1378 63Z" fill="#94682a"/>
<path d="M1423 229L1440 201L1548 168L1548 168L1543 251L1428 239Z" fill="#94682a"/>
</g><g filter="url(#afmf2)">
<ellipse cx="1108" cy="30" rx="70" ry="12" fill="#5e1c0e" opacity="0.8"/>
<ellipse cx="1439" cy="37" rx="42" ry="20" fill="#5a160e" opacity="0.8"/>
<ellipse cx="1080" cy="189" rx="14" ry="28" fill="#5e1a0e" opacity="0.8"/>
<ellipse cx="1172" cy="396" rx="21" ry="15" fill="#5e1c0e" opacity="0.8"/>
<ellipse cx="1134" cy="108" rx="10" ry="39" fill="#7a3816" opacity="0.6" transform="rotate(-35 1134 108)"/>
<ellipse cx="1321" cy="276" rx="13" ry="21" fill="#6a2812" opacity="0.75" transform="rotate(20 1321 276)"/>
<ellipse cx="1290" cy="344" rx="15" ry="11" fill="#6e2a12" opacity="0.75"/>
<ellipse cx="1463" cy="403" rx="17" ry="27" fill="#6a2812" opacity="0.7"/>
<ellipse cx="1254" cy="91" rx="22" ry="19" fill="#f6f0dc" opacity="0.95"/>
<ellipse cx="1185" cy="189" rx="12" ry="27" fill="#d8c488" opacity="0.8"/>
<ellipse cx="1206" cy="327" rx="15" ry="12" fill="#c8ac60" opacity="0.7"/>
<ellipse cx="1365" cy="237" rx="20" ry="17" fill="#c8ac62" opacity="0.6"/>
</g></g>
<g clip-path="url(#clb2)">
<rect x="1475" y="25.1" width="404.1" height="403.6" fill="#905c24"/>
<g filter="url(#afmf)" stroke="#905c24" stroke-width="4" stroke-linejoin="round">
<path d="M1558 94L1551 112L1524 129L1473 93L1523 59Z" fill="#a8822e"/>
<path d="M1523 59L1473 93L1412 82L1402 51L1427 -23L1448 -29L1524 57Z" fill="#a07828"/>
<path d="M1558 94L1523 59L1524 57L1552 25L1585 74Z" fill="#a47c2c"/>
<path d="M1524 57L1448 -29L1501 -56L1556 -43L1552 25Z" fill="#8a4e1e"/>
<path d="M1585 74L1607 72L1611 -51L1556 -43L1552 25Z" fill="#9a6c28"/>
<path d="M1625 81L1607 72L1611 -51L1618 -54L1679 -38L1642 84Z" fill="#c4a862"/>
<path d="M1648 88L1681 96L1708 29L1695 -38L1679 -38L1642 84Z" fill="#b8964a"/>
<path d="M1681 96L1708 29L1764 79L1698 111Z" fill="#a47c2c"/>
<path d="M1708 29L1695 -38L1736 -56L1770 -45L1776 63L1768 79L1764 79Z" fill="#8a4e1e"/>
<path d="M1830 40L1834 -48L1770 -45L1776 63Z" fill="#70301a"/>
<path d="M1846 62L1830 40L1834 -48L1853 -56L1933 -29L1953 51L1942 76L1889 79Z" fill="#74341a"/>
<path d="M1804 95L1846 62L1889 79L1828 126Z" fill="#aa8636"/>
<path d="M1828 126L1827 158L1835 167L1949 173L1952 168L1942 76L1889 79Z" fill="#9a6e2a"/>
<path d="M1804 95L1771 82L1768 79L1776 63L1830 40L1846 62Z" fill="#a07626"/>
<path d="M1633 150L1648 88L1642 84L1625 81L1595 141L1621 156Z" fill="#c8ac68"/>
<path d="M1558 94L1551 112L1589 141L1595 141L1625 81L1607 72L1585 74Z" fill="#c0a25c"/>
<path d="M1633 150L1648 88L1681 96L1698 111L1704 149L1687 169Z" fill="#c4a862"/>
<path d="M1724 156L1704 149L1698 111L1764 79L1768 79L1771 82L1769 136Z" fill="#b89448"/>
<path d="M1795 157L1827 158L1828 126L1804 95L1771 82L1769 136Z" fill="#9a6e2a"/>
<path d="M1614 197L1621 156L1595 141L1589 141L1567 178L1579 200Z" fill="#c4a862"/>
<path d="M1551 112L1589 141L1567 178L1533 163L1523 143L1524 129Z" fill="#a07626"/>
<path d="M1569 217L1535 226L1514 212L1533 163L1567 178L1579 200Z" fill="#8c5a26"/>
<path d="M1416 206L1523 143L1533 163L1514 212L1437 218L1418 214Z" fill="#7e3e1a"/>
<path d="M1524 129L1523 143L1416 206L1395 168L1412 82L1473 93Z" fill="#8a4e1e"/>
<path d="M1437 218L1516 279L1533 262L1535 226L1514 212Z" fill="#96682a"/>
<path d="M1418 214L1393 286L1413 338L1496 329L1514 319L1516 279L1437 218Z" fill="#8a5020"/>
<path d="M1599 278L1525 322L1555 349L1616 306L1617 300L1605 281Z" fill="#b8963e"/>
<path d="M1599 278L1525 322L1514 319L1516 279L1533 262L1597 276Z" fill="#ac8836"/>
<path d="M1616 306L1629 347L1580 377L1563 374L1555 349Z" fill="#b08c3a"/>
<path d="M1597 276L1533 262L1535 226L1569 217Z" fill="#a07626"/>
<path d="M1599 278L1605 281L1645 224L1644 221L1614 197L1579 200L1569 217L1597 276Z" fill="#a47c2c"/>
<path d="M1816 225L1777 217L1759 193L1795 157L1827 158L1835 167L1818 224Z" fill="#b08c3a"/>
<path d="M1755 192L1724 156L1769 136L1795 157L1759 193Z" fill="#8e5a24"/>
<path d="M1816 225L1780 291L1814 298L1843 280L1843 242L1818 224Z" fill="#a07828"/>
<path d="M1816 225L1777 217L1746 258L1755 289L1762 297L1780 291Z" fill="#a8822e"/>
<path d="M1780 291L1762 297L1761 303L1789 359L1801 362L1835 345L1814 298Z" fill="#a88434"/>
<path d="M1843 280L1897 317L1841 346L1835 345L1814 298Z" fill="#94682a"/>
<path d="M1608 414L1645 381L1644 360L1629 347L1580 377Z" fill="#b08c3a"/>
<path d="M1561 493L1600 497L1608 414L1580 377L1563 374L1546 394Z" fill="#9a6e2a"/>
<path d="M1608 414L1600 497L1618 505L1674 493L1665 404L1645 381Z" fill="#b8964a"/>
<path d="M1801 362L1842 485L1805 486L1758 384L1789 359Z" fill="#9a7026"/>
<path d="M1801 362L1842 485L1853 487L1885 474L1841 346L1835 345Z" fill="#8a5020"/>
<path d="M1684 263L1656 296L1687 318L1706 289Z" fill="#c8b070"/>
<path d="M1684 263L1656 296L1617 300L1605 281L1645 224L1684 252Z" fill="#c4aa66"/>
<path d="M1706 289L1687 318L1695 345L1696 345L1726 338L1761 303L1762 297L1755 289Z" fill="#c8b070"/>
<path d="M1617 300L1656 296L1687 318L1695 345L1644 360L1629 347L1616 306Z" fill="#c0a45c"/>
<path d="M1684 263L1706 289L1755 289L1746 258L1725 243L1708 241L1684 252Z" fill="#ccb67a"/>
<path d="M1644 221L1684 178L1687 169L1633 150L1621 156L1614 197Z" fill="#dcc88e"/>
<path d="M1754 384L1726 338L1696 345L1705 385L1721 399Z" fill="#d4c088"/>
<path d="M1754 384L1758 384L1789 359L1761 303L1726 338Z" fill="#b8964a"/>
<path d="M1708 241L1701 199L1735 209L1725 243Z" fill="#e0d0a0"/>
<path d="M1684 252L1645 224L1644 221L1684 178L1701 199L1708 241Z" fill="#e6daae"/>
<path d="M1725 243L1735 209L1755 192L1759 193L1777 217L1746 258Z" fill="#dccb96"/>
<path d="M1735 209L1755 192L1724 156L1704 149L1687 169L1684 178L1701 199Z" fill="#d8c68e"/>
<path d="M1721 399L1710 496L1674 493L1665 404L1705 385Z" fill="#eadfba"/>
<path d="M1705 385L1665 404L1645 381L1644 360L1695 345L1696 345Z" fill="#d0ba7e"/>
<path d="M1516 391L1496 329L1413 338L1401 403L1427 455Z" fill="#6e2e14"/>
<path d="M1525 322L1514 319L1496 329L1516 391L1546 394L1563 374L1555 349Z" fill="#8a5020"/>
<path d="M1561 493L1546 394L1516 391L1427 455L1431 473L1501 507Z" fill="#7a3a18"/>
<path d="M1818 224L1835 167L1949 173L1944 225L1843 242Z" fill="#7a3a18"/>
<path d="M1885 474L1841 346L1897 317L1945 316L1957 403L1918 467Z" fill="#74341a"/>
<path d="M1843 242L1944 225L1959 286L1945 316L1897 317L1843 280Z" fill="#8a5020"/>
<path d="M1754 384L1758 384L1805 486L1736 506L1710 496L1721 399Z" fill="#a07828"/>
</g><g filter="url(#afmf2)">
<ellipse cx="1860" cy="209" rx="25" ry="27" fill="#5e1a0e" opacity="0.8"/>
<ellipse cx="1872" cy="366" rx="14" ry="65" fill="#5e1c0e" opacity="0.8"/>
<ellipse cx="1490" cy="380" rx="25" ry="51" fill="#6a2a12" opacity="0.7"/>
<ellipse cx="1802" cy="30" rx="79" ry="9" fill="#6e2e14" opacity="0.7"/>
<ellipse cx="1792" cy="125" rx="11" ry="12" fill="#5a160e" opacity="0.85"/>
<ellipse cx="1504" cy="179" rx="28" ry="32" fill="#7a3a18" opacity="0.6"/>
<ellipse cx="1705" cy="221" rx="27" ry="16" fill="#f3ecd4" opacity="0.9" transform="rotate(15 1705 221)"/>
<ellipse cx="1690" cy="417" rx="17" ry="15" fill="#fbf8ee" opacity="0.9"/>
<ellipse cx="1645" cy="172" rx="11" ry="11" fill="#ece0b8" opacity="0.7"/>
</g></g>
<rect x="1083.3" y="37.1" width="106.9" height="38.8" fill="#808080"/>
<rect x="1489" y="38" width="59" height="39" fill="#808080"/>
<rect x="1356" y="395" width="81" height="9.6" fill="#f0f0f0"/>
<rect x="1765" y="396" width="81" height="9.6" fill="#f0f0f0"/>
<rect x="1938.4" y="70.3" width="16.6" height="314.2" fill="url(#afmbar)"/>
<path d="M1938.7 200V70.5H1955" fill="none" stroke="#333" stroke-width="0.6"/>
</g><g id="panel-c">
<g clip-path="url(#clipc)">
<g filter="url(#gwf)">
<rect x="91" y="461.8" width="489.79999999999995" height="406.40000000000003" fill="#1d863a"/>
<path d="M424.6 735.2L431.0 732.0L437.6 729.1L444.4 726.6L451.2 724.4L458.2 722.5L465.2 721.0L472.3 719.8L479.5 719.0L486.6 718.5L493.8 718.4L501.0 718.6L508.2 719.1L515.4 720.1L522.5 721.3L529.5 722.9L536.4 724.9L543.2 727.2L549.9 729.8L556.5 732.7L562.9 736.0L569.1 739.5L575.2 743.4L581.0 747.5L586.6 752.0" fill="none" stroke="#6fc02f" stroke-width="4" stroke-opacity="0.45" stroke-linecap="round"/>
<ellipse cx="493" cy="862" rx="167.7" ry="165.3" fill="none" stroke="#b8d42a" stroke-width="9" stroke-opacity="0.75"/>
<ellipse cx="493" cy="862" rx="167.7" ry="165.3" fill="none" stroke="#f09a20" stroke-width="5.5" stroke-opacity="1"/>
<ellipse cx="493" cy="862" rx="167.7" ry="165.3" fill="none" stroke="#d0301c" stroke-width="2.6" stroke-opacity="0.85"/>
<ellipse cx="493" cy="862" rx="238.1" ry="234.8" fill="none" stroke="#7fc82f" stroke-width="7" stroke-opacity="0.5"/>
<ellipse cx="493" cy="862" rx="291.4" ry="287.3" fill="none" stroke="#7fc82f" stroke-width="7" stroke-opacity="0.5"/>
<ellipse cx="493" cy="862" rx="336.3" ry="331.6" fill="none" stroke="#a8d02a" stroke-width="11" stroke-opacity="0.7"/>
<ellipse cx="493" cy="862" rx="336.3" ry="331.6" fill="none" stroke="#f0c028" stroke-width="6" stroke-opacity="0.95"/>
<ellipse cx="493" cy="862" rx="336.3" ry="331.6" fill="none" stroke="#e8701c" stroke-width="2.2" stroke-opacity="0.6"/>
<ellipse cx="493" cy="862" rx="375.5" ry="370.2" fill="none" stroke="#98cc2a" stroke-width="11" stroke-opacity="0.65"/>
<ellipse cx="493" cy="862" rx="375.5" ry="370.2" fill="none" stroke="#dcd830" stroke-width="5.5" stroke-opacity="0.8"/>
<ellipse cx="493" cy="862" rx="407.9" ry="402.2" fill="none" stroke="#5fb82f" stroke-width="7" stroke-opacity="0.4"/>
<ellipse cx="493" cy="862" rx="475.4" ry="468.7" fill="none" stroke="#88c82a" stroke-width="12" stroke-opacity="0.55"/>
<ellipse cx="493" cy="862" rx="475.4" ry="468.7" fill="none" stroke="#c0d82a" stroke-width="5" stroke-opacity="0.45"/>
<ellipse cx="493" cy="862" rx="502.8" ry="495.8" fill="none" stroke="#6fc02f" stroke-width="9" stroke-opacity="0.45"/>
<rect x="91" y="858" width="489.79999999999995" height="10.200000000000045" fill="#1d863a"/>
</g>
<path d="M492.3 832.0L491.8 822.8L491.2 813.6L490.4 804.4L489.5 795.2L488.5 786.0L487.3 776.8L486.0 767.6L484.6 758.4L483.0 749.2L481.3 740.0L479.5 730.7L477.6 721.5L475.5 712.3L473.2 703.1L470.9 693.9L468.4 684.7L465.8 675.5L463.0 666.3L460.1 657.1L457.1 647.9L454.0 638.7L450.7 629.5L447.2 620.3L443.7 611.1L440.0 601.9L436.2 592.7L432.2 583.5L428.2 574.3L424.0 565.1L419.6 555.9L415.1 546.6L410.5 537.4L405.8 528.2L400.9 519.0L395.9 509.8L390.7 500.6L385.5 491.4L380.0 482.2L374.5 473.0L368.8 463.8L617.2 463.8L611.5 473.0L606.0 482.2L600.5 491.4L595.3 500.6L590.1 509.8L585.1 519.0L580.2 528.2L575.5 537.4L570.9 546.6L566.4 555.9L562.0 565.1L557.8 574.3L553.8 583.5L549.8 592.7L546.0 601.9L542.3 611.1L538.8 620.3L535.3 629.5L532.0 638.7L528.9 647.9L525.9 657.1L523.0 666.3L520.2 675.5L517.6 684.7L515.1 693.9L512.8 703.1L510.5 712.3L508.4 721.5L506.5 730.7L504.7 740.0L503.0 749.2L501.4 758.4L500.0 767.6L498.7 776.8L497.5 786.0L496.5 795.2L495.6 804.4L494.8 813.6L494.2 822.8L493.7 832.0Z" fill="#fff"/>
<ellipse cx="493" cy="854" rx="16" ry="28" fill="#9cc82a" opacity="0.5" filter="url(#bl2)"/>
<ellipse cx="493" cy="857" rx="12.2" ry="24" fill="#e8b020" opacity="0.85"/>
<ellipse cx="493" cy="859" rx="10.2" ry="24" fill="#8c1a1e"/>
</g>
<rect x="95" y="465.8" width="481.79999999999995" height="398.40000000000003" fill="none" stroke="#999" stroke-width="1.2"/>
</g>
<g id="panel-d">
<g clip-path="url(#clipd)">
<g filter="url(#gwf)">
<rect x="645.7" y="461.7" width="491.20000000000005" height="406.50000000000006" fill="#218a3a"/>
<path d="M930.1 862.0L930.2 859.3L930.2 856.5L930.4 853.8L930.6 851.1L930.9 848.4L931.3 845.7L931.7 843.0L932.2 840.3L932.7 837.6L933.3 835.0L934.0 832.3L934.7 829.7L935.5 827.1L936.4 824.5L937.3 821.9L938.3 819.4L939.3 816.8L940.4 814.3L941.6 811.8L942.8 809.4L944.0 807.0L945.4 804.6L946.7 802.2L948.2 799.9" fill="none" stroke="#5fb82f" stroke-width="5" stroke-opacity="0.45" stroke-linecap="round"/>
<path d="M980.6 735.2L987.0 732.0L993.6 729.1L1000.4 726.6L1007.2 724.4L1014.2 722.5L1021.2 721.0L1028.3 719.8L1035.5 719.0L1042.6 718.5L1049.8 718.4L1057.0 718.6L1064.2 719.1L1071.4 720.1L1078.5 721.3L1085.5 722.9L1092.4 724.9L1099.2 727.2L1105.9 729.8L1112.5 732.7L1118.9 736.0L1125.1 739.5L1131.2 743.4L1137.0 747.5L1142.6 752.0" fill="none" stroke="#6fc02f" stroke-width="5" stroke-opacity="0.5" stroke-linecap="round"/>
<ellipse cx="1049" cy="862" rx="167.5" ry="165.2" fill="none" stroke="#b8d42a" stroke-width="11" stroke-opacity="0.75"/>
<ellipse cx="1049" cy="862" rx="167.5" ry="165.2" fill="none" stroke="#f09a20" stroke-width="6.5" stroke-opacity="1"/>
<ellipse cx="1049" cy="862" rx="167.5" ry="165.2" fill="none" stroke="#d0301c" stroke-width="3" stroke-opacity="0.9"/>
<ellipse cx="1049" cy="862" rx="236.9" ry="233.6" fill="none" stroke="#7fc82f" stroke-width="9" stroke-opacity="0.5"/>
<ellipse cx="1049" cy="862" rx="288.0" ry="284.0" fill="none" stroke="#7fc82f" stroke-width="9" stroke-opacity="0.5"/>
<ellipse cx="1049" cy="862" rx="333.7" ry="329.0" fill="none" stroke="#a8d02a" stroke-width="14" stroke-opacity="0.7"/>
<ellipse cx="1049" cy="862" rx="333.7" ry="329.0" fill="none" stroke="#f0b828" stroke-width="8" stroke-opacity="0.9"/>
<ellipse cx="1049" cy="862" rx="333.7" ry="329.0" fill="none" stroke="#e8701c" stroke-width="3" stroke-opacity="0.6"/>
<ellipse cx="1049" cy="862" rx="372.3" ry="367.1" fill="none" stroke="#98cc2a" stroke-width="14" stroke-opacity="0.65"/>
<ellipse cx="1049" cy="862" rx="372.3" ry="367.1" fill="none" stroke="#dcd830" stroke-width="8" stroke-opacity="0.8"/>
<ellipse cx="1049" cy="862" rx="404.6" ry="398.9" fill="none" stroke="#5fb82f" stroke-width="9" stroke-opacity="0.4"/>
<ellipse cx="1049" cy="862" rx="471.2" ry="464.6" fill="none" stroke="#88c82a" stroke-width="15" stroke-opacity="0.6"/>
<ellipse cx="1049" cy="862" rx="471.2" ry="464.6" fill="none" stroke="#c0d82a" stroke-width="7" stroke-opacity="0.45"/>
<ellipse cx="1049" cy="862" rx="499.5" ry="492.5" fill="none" stroke="#6fc02f" stroke-width="11" stroke-opacity="0.45"/>
<rect x="645.7" y="858" width="491.20000000000005" height="10.200000000000045" fill="#218a3a"/>
</g>
<path d="M1048.3 832.0L1047.8 822.8L1047.2 813.6L1046.4 804.4L1045.5 795.2L1044.5 786.0L1043.3 776.8L1042.0 767.5L1040.6 758.3L1039.0 749.1L1037.3 739.9L1035.5 730.7L1033.5 721.5L1031.5 712.3L1029.2 703.1L1026.9 693.9L1024.4 684.7L1021.8 675.5L1019.0 666.3L1016.1 657.1L1013.1 647.9L1009.9 638.6L1006.6 629.4L1003.2 620.2L999.7 611.0L996.0 601.8L992.2 592.6L988.2 583.4L984.1 574.2L979.9 565.0L975.6 555.8L971.1 546.6L966.5 537.4L961.7 528.2L956.8 518.9L951.8 509.7L946.7 500.5L941.4 491.3L936.0 482.1L930.4 472.9L924.8 463.7L1173.2 463.7L1167.6 472.9L1162.0 482.1L1156.6 491.3L1151.3 500.5L1146.2 509.7L1141.2 518.9L1136.3 528.2L1131.5 537.4L1126.9 546.6L1122.4 555.8L1118.1 565.0L1113.9 574.2L1109.8 583.4L1105.8 592.6L1102.0 601.8L1098.3 611.0L1094.8 620.2L1091.4 629.4L1088.1 638.6L1084.9 647.9L1081.9 657.1L1079.0 666.3L1076.2 675.5L1073.6 684.7L1071.1 693.9L1068.8 703.1L1066.5 712.3L1064.5 721.5L1062.5 730.7L1060.7 739.9L1059.0 749.1L1057.4 758.3L1056.0 767.5L1054.7 776.8L1053.5 786.0L1052.5 795.2L1051.6 804.4L1050.8 813.6L1050.2 822.8L1049.7 832.0Z" fill="#fff"/>
<ellipse cx="1049" cy="854" rx="16" ry="28" fill="#9cc82a" opacity="0.5" filter="url(#bl2)"/>
<ellipse cx="1049" cy="857" rx="12.2" ry="24" fill="#e8b020" opacity="0.85"/>
<ellipse cx="1049" cy="859" rx="10.2" ry="24" fill="#8c1a1e"/>
</g>
<rect x="649.7" y="465.7" width="483.20000000000005" height="398.50000000000006" fill="none" stroke="#999" stroke-width="1.2"/>
<path d="M974.3 831.5L946 853.3" stroke="#fff" stroke-width="2.2" stroke-dasharray="6 3" fill="none"/>
<path d="M936.5 860.6L951 855.8L948.5 851.5L946.5 847.5Z" fill="#fff"/>
<rect x="1159" y="493.7" width="4.5" height="338.8" fill="#999"/>
<rect x="1163" y="493.7" width="22.8" height="338.8" fill="url(#gbar)"/>
</g><g id="panel-e">
<path d="M1335.5 791.7L1336.5 792.0L1337.5 791.8L1338.5 792.3L1339.5 792.6L1340.5 791.4L1341.5 790.5L1342.5 791.9L1343.5 791.4L1344.5 791.1L1345.5 792.7L1346.5 792.6L1347.5 793.4L1348.5 793.0L1349.5 793.2L1350.5 792.1L1351.5 792.5L1352.5 793.4L1353.5 793.2L1354.5 793.6L1355.5 793.6L1356.5 792.2L1357.5 792.9L1358.5 793.0L1359.5 792.3L1360.5 791.1L1361.5 792.4L1362.5 792.4L1363.5 792.9L1364.5 793.7L1365.5 793.9L1366.5 794.5L1367.5 793.6L1368.5 794.0L1369.5 793.4L1370.5 794.2L1371.5 794.6L1372.5 792.9L1373.5 791.8L1374.5 791.3L1375.5 792.8L1376.5 792.5L1377.5 792.8L1378.5 792.2L1379.5 792.3L1380.5 792.0L1381.5 791.7L1382.5 792.2L1383.5 792.4L1384.5 793.5L1385.5 793.6L1386.5 794.3L1387.5 794.7L1388.5 795.3L1389.5 794.8L1390.4 793.2L1391.4 793.9L1392.4 794.6L1393.4 795.0L1394.4 794.4L1395.4 794.3L1396.4 793.0L1397.4 793.7L1398.4 793.5L1399.4 792.6L1400.4 791.4L1401.4 792.6L1402.4 793.8L1403.4 792.3L1404.4 793.1L1405.4 792.7L1406.4 791.7L1407.4 791.4L1408.4 792.4L1409.4 793.3L1410.4 791.9L1411.4 792.3L1412.4 791.2L1413.4 792.1L1414.4 791.8L1415.4 792.9L1416.4 794.0L1417.4 793.5L1418.4 794.5L1419.4 793.4L1420.4 792.0L1421.4 792.4L1422.4 791.2L1423.4 790.8L1424.4 791.0L1425.4 791.7L1426.4 791.0L1427.4 790.3L1428.4 791.9L1429.4 791.5L1430.4 793.0L1431.4 793.8L1432.4 793.1L1433.4 792.8L1434.4 792.7L1435.4 793.0L1436.4 793.1L1437.4 793.0L1438.4 793.1L1439.4 794.0L1440.4 793.6L1441.4 793.0L1442.4 793.4L1443.4 792.4L1444.4 791.9L1445.4 793.3L1446.4 793.1L1447.4 793.0L1448.4 791.6L1449.4 791.6L1450.4 792.0L1451.4 790.9L1452.4 791.7L1453.4 792.2L1454.4 791.1L1455.4 791.9L1456.4 791.9L1457.4 792.5L1458.4 792.1L1459.4 792.7L1460.4 793.2L1461.4 791.8L1462.4 790.8L1463.4 791.8L1464.4 793.1L1465.4 792.3L1466.4 792.2L1467.4 792.5L1468.4 792.0L1469.4 791.8L1470.4 791.5L1471.4 791.4L1472.4 792.0L1473.4 791.6L1474.4 791.5L1475.4 792.5L1476.4 791.2L1477.4 791.7L1478.4 792.5L1479.4 791.9L1480.4 791.1L1481.4 791.9L1482.4 790.6L1483.4 789.0L1484.4 787.4L1485.4 785.5L1486.4 780.2L1487.4 773.9L1488.4 765.3L1489.4 755.4L1490.4 741.7L1491.4 727.0L1492.4 709.3L1493.4 692.8L1494.4 678.8L1495.4 668.5L1496.4 662.5L1497.3 661.8L1498.3 666.9L1499.3 677.6L1500.3 691.5L1501.3 708.4L1502.3 725.5L1503.3 740.7L1504.3 754.3L1505.3 766.1L1506.3 774.9L1507.3 781.6L1508.3 785.6L1509.3 788.0L1510.3 789.6L1511.3 791.2L1512.3 791.5L1513.3 791.7L1514.3 791.9L1515.3 792.0L1516.3 792.0L1517.3 792.7L1518.3 792.1L1519.3 791.6L1520.3 792.4L1521.3 792.9L1522.3 793.4L1523.3 793.0L1524.3 793.4L1525.3 793.6L1526.3 792.9L1527.3 793.1L1528.3 793.3L1529.3 793.2L1530.3 793.0L1531.3 792.6L1532.3 792.3L1533.3 792.0L1534.3 791.6L1535.3 791.9L1536.3 791.8L1537.3 792.4L1538.3 791.8L1539.3 792.5L1540.3 792.7L1541.3 793.2L1542.3 793.4L1543.3 793.6L1544.3 793.4L1545.3 792.5L1546.3 792.8L1547.3 792.2L1548.3 792.0L1549.3 792.3L1550.3 792.4L1551.3 792.3L1552.3 792.9L1553.3 792.9L1554.3 792.5L1555.3 792.2L1556.3 792.7L1557.3 792.6L1558.3 792.9L1559.3 792.6L1560.3 792.1L1561.3 792.2L1562.3 792.7L1563.3 792.2L1564.3 792.6L1565.3 793.1L1566.3 793.3L1567.3 793.4L1568.3 792.5L1569.3 792.6L1570.3 793.0L1571.3 792.3L1572.3 792.0L1573.3 791.8L1574.3 792.0L1575.3 792.0L1576.3 792.1L1577.3 792.6L1578.3 791.9L1579.3 791.5L1580.3 791.3L1581.3 791.1L1582.3 791.0L1583.3 792.0L1584.3 792.6L1585.3 792.0L1586.3 792.1L1587.3 792.0L1588.3 791.9L1589.3 791.8L1590.3 792.2L1591.3 792.4L1592.3 792.2L1593.3 791.9L1594.3 791.8L1595.3 791.5L1596.3 791.8L1597.3 792.3L1598.3 792.2L1599.3 791.7L1600.3 791.5L1601.3 791.6L1602.3 792.0L1603.3 792.5L1604.3 792.3L1605.2 792.7L1606.2 792.8L1607.2 792.6L1608.2 792.4L1609.2 792.4L1610.2 792.6L1611.2 792.5L1612.2 792.7L1613.2 792.5L1614.2 792.1L1615.2 792.1L1616.2 792.2L1617.2 791.3L1618.2 790.9L1619.2 790.2L1620.2 789.7L1621.2 788.7L1622.2 786.2L1623.2 784.0L1624.2 781.0L1625.2 776.8L1626.2 772.7L1627.2 768.4L1628.2 765.4L1629.2 762.9L1630.2 761.6L1631.2 761.3L1632.2 762.1L1633.2 764.2L1634.2 767.0L1635.2 769.8L1636.2 773.9L1637.2 777.0L1638.2 780.2L1639.2 783.9L1640.2 785.8L1641.2 787.4L1642.2 788.6L1643.2 790.4L1644.2 790.8L1645.2 790.8L1646.2 791.8L1647.2 791.5L1648.2 792.3L1649.2 792.5L1650.2 792.9L1651.2 793.4L1652.2 793.2L1653.2 793.3L1654.2 792.5L1655.2 792.8L1656.2 792.7L1657.2 792.9L1658.2 792.2L1659.2 792.6L1660.2 793.1L1661.2 792.3L1662.2 792.1L1663.2 792.3L1664.2 792.7L1665.2 792.3L1666.2 791.9L1667.2 791.7L1668.2 792.1L1669.2 792.5L1670.2 792.3L1671.2 792.1L1672.2 792.1L1673.2 791.9L1674.2 791.9L1675.2 791.4L1676.2 791.6L1677.2 792.3L1678.2 792.0L1679.2 792.2L1680.2 791.5L1681.2 791.6L1682.2 791.7L1683.2 791.6L1684.2 791.2L1685.2 790.8L1686.2 790.6L1687.2 790.7L1688.2 789.7L1689.2 788.9L1690.2 789.1L1691.2 789.4L1692.2 789.0L1693.2 788.7L1694.2 788.8L1695.2 788.3L1696.2 788.1L1697.2 787.9L1698.2 788.4L1699.2 788.4L1700.2 788.5L1701.2 789.2L1702.2 790.2L1703.2 790.1L1704.2 790.6L1705.2 790.7L1706.2 791.4L1707.2 791.6L1708.2 791.4L1709.2 791.2L1710.2 790.9L1711.2 791.2L1712.2 791.4L1713.2 791.2L1714.1 791.3L1715.1 791.3L1716.1 791.8L1717.1 791.2L1718.1 791.7L1719.1 791.1L1720.1 790.5L1721.1 789.5L1722.1 788.7L1723.1 787.4L1724.1 785.4L1725.1 783.0L1726.1 780.7L1727.1 778.4L1728.1 775.4L1729.1 773.1L1730.1 771.3L1731.1 769.4L1732.1 767.8L1733.1 767.2L1734.1 768.0L1735.1 769.4L1736.1 771.6L1737.1 774.1L1738.1 776.0L1739.1 778.1L1740.1 780.4L1741.1 782.5L1742.1 785.1L1743.1 787.4L1744.1 789.3L1745.1 789.9L1746.1 791.2L1747.1 791.4L1748.1 791.6L1749.1 792.2L1750.1 791.8L1751.1 791.5L1752.1 792.2L1753.1 792.0L1754.1 792.0L1755.1 792.2L1756.1 792.5L1757.1 791.8L1758.1 791.8L1759.1 791.9L1760.1 792.0L1761.1 791.8L1762.1 792.1L1763.1 792.7L1764.1 792.5L1765.1 792.5L1766.1 792.0L1767.1 791.8L1768.1 792.2L1769.1 791.8L1770.1 792.5L1771.1 793.0L1772.1 792.3L1773.1 792.9L1774.1 792.6L1775.1 792.9L1776.1 793.1L1777.1 792.6L1778.1 792.8L1779.1 792.9L1780.1 793.1L1781.1 792.6L1782.1 792.9L1783.1 793.3L1784.1 793.3L1785.1 793.0L1786.1 792.4L1787.1 792.4L1788.1 792.2L1789.1 792.5L1790.1 792.7L1791.1 792.7L1792.1 792.2L1793.1 792.4L1794.1 792.6L1795.1 792.1L1796.1 792.6L1797.1 792.7L1798.1 792.0L1799.1 792.4L1800.1 791.6L1801.1 790.9L1802.1 790.6L1803.1 789.7L1804.1 788.2L1805.1 786.3L1806.1 783.3L1807.1 779.3L1808.1 774.3L1809.1 768.2L1810.1 762.2L1811.1 755.2L1812.1 747.3L1813.1 739.5L1814.1 731.4L1815.1 724.2L1816.1 718.6L1817.1 715.4L1818.1 713.1L1819.1 713.8L1820.1 716.3L1821.0 721.5L1822.0 727.6L1823.0 734.8L1824.0 742.8L1825.0 751.0L1826.0 759.1L1827.0 765.9L1828.0 772.5L1829.0 777.0L1830.0 781.0L1831.0 783.8L1832.0 786.0L1833.0 788.5L1834.0 790.1L1835.0 790.6L1836.0 790.9L1837.0 791.3L1838.0 792.0L1839.0 792.6L1840.0 792.9L1841.0 792.9L1842.0 792.3L1843.0 792.2L1844.0 791.9L1845.0 792.1L1846.0 792.3L1847.0 791.9L1848.0 791.7L1849.0 792.3L1850.0 791.7L1851.0 792.3L1852.0 792.8L1853.0 793.3L1854.0 792.9L1855.0 792.8L1856.0 792.8L1857.0 792.8L1858.0 793.3L1859.0 793.3L1860.0 792.8L1861.0 793.1L1862.0 792.9L1863.0 792.9L1864.0 793.0L1865.0 792.2L1866.0 792.6L1867.0 792.7L1868.0 792.6L1869.0 792.6L1870.0 792.5L1871.0 792.1L1872.0 792.2L1873.0 791.7L1874.0 791.9L1875.0 792.2" fill="none" stroke="#9b9b9b" stroke-width="4.4" stroke-linejoin="round" stroke-linecap="round"/>
<path d="M1335.5 648.0L1336.5 648.8L1337.5 649.5L1338.5 650.6L1339.5 650.6L1340.5 651.3L1341.5 648.3L1342.5 648.0L1343.5 649.5L1344.5 649.5L1345.5 650.4L1346.5 648.1L1347.5 647.8L1348.5 646.7L1349.5 647.1L1350.5 647.5L1351.5 645.6L1352.5 645.1L1353.5 645.0L1354.5 647.3L1355.5 648.4L1356.5 646.8L1357.5 648.2L1358.5 646.6L1359.5 647.3L1360.5 645.9L1361.5 644.5L1362.5 646.8L1363.5 645.9L1364.5 645.3L1365.5 647.8L1366.5 649.1L1367.5 647.8L1368.5 649.5L1369.5 649.1L1370.5 649.3L1371.5 647.6L1372.5 649.3L1373.5 649.5L1374.5 650.7L1375.5 651.2L1376.5 649.3L1377.5 648.3L1378.5 646.7L1379.5 645.6L1380.5 644.5L1381.5 644.6L1382.5 645.9L1383.5 644.5L1384.5 646.1L1385.5 645.8L1386.5 645.6L1387.5 647.3L1388.5 647.2L1389.5 646.4L1390.4 646.4L1391.4 647.1L1392.4 644.8L1393.4 646.5L1394.4 643.6L1395.4 643.9L1396.4 644.0L1397.4 640.3L1398.4 640.2L1399.4 638.0L1400.4 636.9L1401.4 633.8L1402.4 631.9L1403.4 631.2L1404.4 634.1L1405.4 633.8L1406.4 636.3L1407.4 639.3L1408.4 642.0L1409.4 642.1L1410.4 642.6L1411.4 643.9L1412.4 645.9L1413.4 644.9L1414.4 646.7L1415.4 648.1L1416.4 649.4L1417.4 647.1L1418.4 649.0L1419.4 647.0L1420.4 646.5L1421.4 647.3L1422.4 649.0L1423.4 647.9L1424.4 649.4L1425.4 649.0L1426.4 647.8L1427.4 647.0L1428.4 645.9L1429.4 644.8L1430.4 644.3L1431.4 646.0L1432.4 648.3L1433.4 646.8L1434.4 645.3L1435.4 647.8L1436.4 647.8L1437.4 647.4L1438.4 646.4L1439.4 647.1L1440.4 648.5L1441.4 648.0L1442.4 647.6L1443.4 645.8L1444.4 647.9L1445.4 646.0L1446.4 646.4L1447.4 648.1L1448.4 646.5L1449.4 647.7L1450.4 649.3L1451.4 649.3L1452.4 649.9L1453.4 647.6L1454.4 647.3L1455.4 646.0L1456.4 647.8L1457.4 646.9L1458.4 646.9L1459.4 649.0L1460.4 649.9L1461.4 651.0L1462.4 649.8L1463.4 649.1L1464.4 649.5L1465.4 648.8L1466.4 647.6L1467.4 647.2L1468.4 645.9L1469.4 645.9L1470.4 648.3L1471.4 649.8L1472.4 649.6L1473.4 649.0L1474.4 647.9L1475.4 646.2L1476.4 645.7L1477.4 647.3L1478.4 648.7L1479.4 647.7L1480.4 648.6L1481.4 648.9L1482.4 648.5L1483.4 647.4L1484.4 646.1L1485.4 642.0L1486.4 638.1L1487.4 630.6L1488.4 621.9L1489.4 611.7L1490.4 598.5L1491.4 581.6L1492.4 566.6L1493.4 550.0L1494.4 535.3L1495.4 523.2L1496.4 517.4L1497.3 516.7L1498.3 522.7L1499.3 533.1L1500.3 547.9L1501.3 564.3L1502.3 581.3L1503.3 596.4L1504.3 610.3L1505.3 621.9L1506.3 631.0L1507.3 636.7L1508.3 641.6L1509.3 644.9L1510.3 646.6L1511.3 648.2L1512.3 649.1L1513.3 648.8L1514.3 648.5L1515.3 647.6L1516.3 648.2L1517.3 648.9L1518.3 648.4L1519.3 648.5L1520.3 648.6L1521.3 648.7L1522.3 647.7L1523.3 648.2L1524.3 648.1L1525.3 648.3L1526.3 647.9L1527.3 648.0L1528.3 648.4L1529.3 648.4L1530.3 648.5L1531.3 647.3L1532.3 646.7L1533.3 646.8L1534.3 647.3L1535.3 646.8L1536.3 647.4L1537.3 647.7L1538.3 646.7L1539.3 646.9L1540.3 646.6L1541.3 646.0L1542.3 645.7L1543.3 645.9L1544.3 645.8L1545.3 645.7L1546.3 645.4L1547.3 645.9L1548.3 646.2L1549.3 646.8L1550.3 647.2L1551.3 646.8L1552.3 647.8L1553.3 646.7L1554.3 646.8L1555.3 646.6L1556.3 646.7L1557.3 646.2L1558.3 647.2L1559.3 647.1L1560.3 646.3L1561.3 646.9L1562.3 646.3L1563.3 646.7L1564.3 646.7L1565.3 647.1L1566.3 648.1L1567.3 648.5L1568.3 648.1L1569.3 648.5L1570.3 648.5L1571.3 647.9L1572.3 647.1L1573.3 647.4L1574.3 647.6L1575.3 648.4L1576.3 649.0L1577.3 648.8L1578.3 648.1L1579.3 648.7L1580.3 647.4L1581.3 646.7L1582.3 647.0L1583.3 647.4L1584.3 646.7L1585.3 647.2L1586.3 648.1L1587.3 647.6L1588.3 647.5L1589.3 647.0L1590.3 646.7L1591.3 647.9L1592.3 647.5L1593.3 648.4L1594.3 648.9L1595.3 648.7L1596.3 647.9L1597.3 648.7L1598.3 648.3L1599.3 647.9L1600.3 647.4L1601.3 648.4L1602.3 648.1L1603.3 647.5L1604.3 647.5L1605.2 646.7L1606.2 647.2L1607.2 647.2L1608.2 646.9L1609.2 647.6L1610.2 648.2L1611.2 647.0L1612.2 647.2L1613.2 646.8L1614.2 647.8L1615.2 648.0L1616.2 647.1L1617.2 646.2L1618.2 645.0L1619.2 645.3L1620.2 643.5L1621.2 641.9L1622.2 639.4L1623.2 636.7L1624.2 633.3L1625.2 629.8L1626.2 625.0L1627.2 621.9L1628.2 618.4L1629.2 616.4L1630.2 615.2L1631.2 615.3L1632.2 617.1L1633.2 619.9L1634.2 623.1L1635.2 627.6L1636.2 631.6L1637.2 634.3L1638.2 637.2L1639.2 640.1L1640.2 643.2L1641.2 645.4L1642.2 646.3L1643.2 645.9L1644.2 647.1L1645.2 647.2L1646.2 647.5L1647.2 647.9L1648.2 648.1L1649.2 647.9L1650.2 648.6L1651.2 648.0L1652.2 647.7L1653.2 648.3L1654.2 647.5L1655.2 647.1L1656.2 647.8L1657.2 646.9L1658.2 647.7L1659.2 648.0L1660.2 647.7L1661.2 647.3L1662.2 647.9L1663.2 648.5L1664.2 647.5L1665.2 647.5L1666.2 647.6L1667.2 647.6L1668.2 647.2L1669.2 646.6L1670.2 647.0L1671.2 647.8L1672.2 646.8L1673.2 646.5L1674.2 647.3L1675.2 647.9L1676.2 648.0L1677.2 646.8L1678.2 647.3L1679.2 648.1L1680.2 648.6L1681.2 648.4L1682.2 646.9L1683.2 647.3L1684.2 646.3L1685.2 646.4L1686.2 646.9L1687.2 646.8L1688.2 645.5L1689.2 644.9L1690.2 645.6L1691.2 644.6L1692.2 644.7L1693.2 644.4L1694.2 643.8L1695.2 644.2L1696.2 643.5L1697.2 643.1L1698.2 643.4L1699.2 643.2L1700.2 643.0L1701.2 644.0L1702.2 645.1L1703.2 646.1L1704.2 645.5L1705.2 645.8L1706.2 645.7L1707.2 646.3L1708.2 646.5L1709.2 647.6L1710.2 647.3L1711.2 646.4L1712.2 647.1L1713.2 646.5L1714.1 647.0L1715.1 647.1L1716.1 648.0L1717.1 647.8L1718.1 647.7L1719.1 646.7L1720.1 646.3L1721.1 645.1L1722.1 644.6L1723.1 643.1L1724.1 640.4L1725.1 637.7L1726.1 634.8L1727.1 632.3L1728.1 628.3L1729.1 625.6L1730.1 622.9L1731.1 619.7L1732.1 618.8L1733.1 617.6L1734.1 617.9L1735.1 620.2L1736.1 622.4L1737.1 626.6L1738.1 629.9L1739.1 633.0L1740.1 636.9L1741.1 638.6L1742.1 641.6L1743.1 642.5L1744.1 643.5L1745.1 645.7L1746.1 646.7L1747.1 646.6L1748.1 646.2L1749.1 647.5L1750.1 647.9L1751.1 648.4L1752.1 647.5L1753.1 647.7L1754.1 647.4L1755.1 646.9L1756.1 646.8L1757.1 647.2L1758.1 647.0L1759.1 646.9L1760.1 646.4L1761.1 647.4L1762.1 647.7L1763.1 648.2L1764.1 647.9L1765.1 648.4L1766.1 648.2L1767.1 648.2L1768.1 648.1L1769.1 648.4L1770.1 647.9L1771.1 647.0L1772.1 646.3L1773.1 646.1L1774.1 645.6L1775.1 646.9L1776.1 647.1L1777.1 647.7L1778.1 646.7L1779.1 646.9L1780.1 647.8L1781.1 647.9L1782.1 647.7L1783.1 647.6L1784.1 646.8L1785.1 646.3L1786.1 646.0L1787.1 646.2L1788.1 646.4L1789.1 647.5L1790.1 646.8L1791.1 646.5L1792.1 646.4L1793.1 646.1L1794.1 646.1L1795.1 646.0L1796.1 646.4L1797.1 645.7L1798.1 646.9L1799.1 646.6L1800.1 647.3L1801.1 647.0L1802.1 646.4L1803.1 645.0L1804.1 644.1L1805.1 640.8L1806.1 638.1L1807.1 633.6L1808.1 629.0L1809.1 623.4L1810.1 615.5L1811.1 607.1L1812.1 598.0L1813.1 589.3L1814.1 580.7L1815.1 573.8L1816.1 569.2L1817.1 565.0L1818.1 563.0L1819.1 563.7L1820.1 566.3L1821.0 572.0L1822.0 579.2L1823.0 586.3L1824.0 594.4L1825.0 603.5L1826.0 612.6L1827.0 620.1L1828.0 626.3L1829.0 632.6L1830.0 635.7L1831.0 638.3L1832.0 641.8L1833.0 643.5L1834.0 644.0L1835.0 645.3L1836.0 647.1L1837.0 647.3L1838.0 647.2L1839.0 646.5L1840.0 646.0L1841.0 647.2L1842.0 647.3L1843.0 648.2L1844.0 647.1L1845.0 646.8L1846.0 646.1L1847.0 646.3L1848.0 645.8L1849.0 645.9L1850.0 646.2L1851.0 646.2L1852.0 645.7L1853.0 645.4L1854.0 646.9L1855.0 646.5L1856.0 646.8L1857.0 646.8L1858.0 647.1L1859.0 646.4L1860.0 646.4L1861.0 646.0L1862.0 646.5L1863.0 647.6L1864.0 647.8L1865.0 648.4L1866.0 647.6L1867.0 646.6L1868.0 647.0L1869.0 647.1L1870.0 647.4L1871.0 647.2L1872.0 647.5L1873.0 647.9L1874.0 648.6L1875.0 647.9" fill="none" stroke="#fdb913" stroke-width="4.4" stroke-linejoin="round" stroke-linecap="round"/>
<rect x="1333.3" y="463.3" width="543.7" height="399.9" fill="none" stroke="#000" stroke-width="4"/>
<path d="M1493.0 862V855M1652.8 862V855M1812.5 862V855M1413.2 862V858.3M1572.9 862V858.3M1732.7 862V858.3" stroke="#000" stroke-width="3.4" fill="none"/>
<path d="M1714.5 485.3H1777.7" stroke="#9b9b9b" stroke-width="4.4" stroke-linecap="round"/>
<path d="M1714.5 520.5H1777.7" stroke="#fdb913" stroke-width="4.4" stroke-linecap="round"/>
</g><g id="panel-f">
<rect x="95" y="984.1" width="419.4" height="419.7" fill="#93b536" filter="url(#irc)"/>
<rect x="565.5" y="984.1" width="419" height="419.7" fill="#d0642a" filter="url(#ird)"/>
<rect x="327.7" y="996" width="172.7" height="39" fill="#000"/>
<rect x="795.6" y="996" width="172.7" height="39" fill="#000"/>
<rect x="1003.2" y="984" width="31.7" height="416.8" fill="url(#irbar)"/>
</g><g id="panel-g">
<path d="M1140.2 1069.4L1166.9 1254.8L1314 1371.7L1461.4 1254.8L1489 1069.4L1313.7 1169.4Z" fill="#fffdf7"/>
<path d="M1313.7 1000.3L1140.2 1069.4L1313.7 1169.4L1489 1069.4Z" fill="url(#c1g)" filter="url(#cubn)"/>
<path d="M1140.2 1069.4L1166.9 1254.8M1489 1069.4L1461.4 1254.8M1313.7 1169.4L1314 1371.7M1166.9 1254.8L1314 1371.7M1314 1371.7L1461.4 1254.8M1166.9 1254.8L1313.7 1169.4M1461.4 1254.8L1313.7 1169.4" fill="none" stroke="#ead9a2" stroke-width="1.1"/>
<path d="M1526.2 1071.1L1554 1257.3L1701.2 1374L1851.5 1257.3L1878.4 1071.1L1701.2 1171.2Z" fill="url(#clg)" filter="url(#cubn)"/>
<path d="M1701.2 1003.8L1526.2 1071.1L1701.2 1171.2L1878.4 1071.1Z" fill="#dfebdc" filter="url(#cubn)"/>
<path d="M1701.2 1003.8L1526.2 1071.1M1526.2 1071.1L1701.2 1171.2M1701.2 1171.2L1878.4 1071.1M1878.4 1071.1L1701.2 1003.8M1526.2 1071.1L1554 1257.3M1878.4 1071.1L1851.5 1257.3M1701.2 1171.2L1701.2 1374M1554 1257.3L1701.2 1374M1701.2 1374L1851.5 1257.3" fill="none" stroke="#b4c4ae" stroke-width="1"/>
<path d="M1554 1257.3L1701.2 1171.2M1851.5 1257.3L1701.2 1171.2" fill="none" stroke="#c4d2bf" stroke-width="1" stroke-opacity="0.5"/>
</g><g id="labels">
<text class="pl" transform="translate(18.07 45.2) scale(1.0715 1)" font-size="64.5">a</text>
<text class="pl" transform="translate(1030.50 45.5) scale(0.9050 1)" font-size="66.5">b</text>
<text class="pl" transform="translate(18.61 478) scale(1.0129 1)" font-size="64.5">c</text>
<text class="pl" transform="translate(604.10 477.5) scale(0.9988 1)" font-size="66.5">d</text>
<text class="pl" transform="translate(1281.99 477.5) scale(1.0510 1)" font-size="63.5">e</text>
<text class="pl" transform="translate(18.83 1006.5) scale(1.3035 1)" font-size="66.5">f</text>
<text class="pl" transform="translate(1122.95 990.6) scale(1.0301 1)" font-size="64.5">g</text>
<text transform="translate(107.02 69.6) scale(0.9444 1)" font-size="35.5" fill="#fff">Control</text>
<text transform="translate(574.13 70.7) scale(0.9522 1)" font-size="35.5" fill="#fff">DCl</text>
<text transform="translate(423.29 384.5) scale(0.9794 1)" font-size="35" fill="#fff">1 μm</text>
<text transform="translate(887.77 387.2) scale(0.9517 1)" font-size="35" fill="#fff">1 μm</text>
<text transform="translate(1082.91 68.3) scale(0.9538 1)" font-size="35.5" fill="#fff">Control</text>
<text transform="translate(1225.14 67.9) scale(0.9400 1)" font-size="35.5" fill="#fff">RMS = 19.2 nm</text>
<text transform="translate(1490.24 69.9) scale(0.9435 1)" font-size="35.5" fill="#fff">DCl</text>
<text transform="translate(1631.02 69.9) scale(0.9537 1)" font-size="35.5" fill="#fff">RMS = 18.4 nm</text>
<text transform="translate(1342.30 385.9) scale(0.9722 1)" font-size="35" fill="#fff">200 nm</text>
<text transform="translate(1751.50 387.5) scale(0.9760 1)" font-size="35" fill="#fff">200 nm</text>
<text transform="translate(1900.33 53.2) scale(0.9743 1)" font-size="35">40 nm</text>
<text transform="translate(1890.11 427.7) scale(0.9705 1)" font-size="35">−70 nm</text>
<text transform="translate(108.22 504.3) scale(0.9482 1)" font-size="35.5" fill="#fff">Control</text>
<text transform="translate(499.64 504.5) scale(1.0182 1)" font-size="35">0.2°</text>
<text transform="translate(46.35 876.4) scale(1.0126 1)" font-size="35">0.0</text>
<text transform="translate(46.35 793.2) scale(1.0134 1)" font-size="35">0.5</text>
<text transform="translate(48.22 710.0) scale(0.9685 1)" font-size="35">1.0</text>
<text transform="translate(48.22 626.8) scale(0.9693 1)" font-size="35">1.5</text>
<text transform="translate(46.13 543.6) scale(1.0176 1)" font-size="35">2.0</text>
<text transform="translate(126.22 899.5) scale(1.02 1)" font-size="35">−<tspan dx="5.5">2.0</tspan></text>
<text transform="translate(209.42 899.5) scale(1.02 1)" font-size="35">−<tspan dx="5.5">1.5</tspan></text>
<text transform="translate(292.62 899.5) scale(1.02 1)" font-size="35">−<tspan dx="5.5">1.0</tspan></text>
<text transform="translate(375.82 899.5) scale(1.02 1)" font-size="35">−<tspan dx="5.5">0.5</tspan></text>
<text transform="translate(484.63 899.5) scale(1.0247 1)" font-size="35">0</text>
<text transform="translate(555.63 899.5) scale(0.9525 1)" font-size="35">0.5</text>
<text transform="translate(682.22 897.6) scale(1.02 1)" font-size="35">−<tspan dx="5.5">2.0</tspan></text>
<text transform="translate(765.42 897.6) scale(1.02 1)" font-size="35">−<tspan dx="5.5">1.5</tspan></text>
<text transform="translate(848.62 897.6) scale(1.02 1)" font-size="35">−<tspan dx="5.5">1.0</tspan></text>
<text transform="translate(931.82 897.6) scale(1.02 1)" font-size="35">−<tspan dx="5.5">0.5</tspan></text>
<text transform="translate(1040.63 897.6) scale(1.0247 1)" font-size="35">0</text>
<text transform="translate(1111.63 897.6) scale(0.9525 1)" font-size="35">0.5</text>
<text transform="translate(273.71 937) scale(1.0165 1)" font-size="35">q<tspan font-size="24.5" dy="6.0">xy</tspan><tspan dy="-6.0"> (Å</tspan><tspan font-size="21.7" dy="-13.7">−1</tspan><tspan dy="13.7">)</tspan></text>
<text transform="translate(836.91 935.5) scale(1.0174 1)" font-size="35">q<tspan font-size="24.5" dy="6.0">xy</tspan><tspan dy="-6.0"> (Å</tspan><tspan font-size="21.7" dy="-13.7">−1</tspan><tspan dy="13.7">)</tspan></text>
<text transform="translate(30 730.03) rotate(-90) scale(1.0500 1)" font-size="35">q<tspan font-size="24.5" dy="6.0">z</tspan><tspan dy="-6.0"> (Å</tspan><tspan font-size="21.7" dy="-13.7">−1</tspan><tspan dy="13.7">)</tspan></text>
<text transform="translate(666.74 504.5) scale(0.9400 1)" font-size="35.5" fill="#fff">DCl</text>
<text transform="translate(1055.25 502.4) scale(1.0091 1)" font-size="35">0.2°</text>
<text transform="translate(982.75 835) scale(1.0388 1)" font-size="34" fill="#fff">2D</text>
<text transform="translate(1154.14 486.7) scale(1.0413 1)" font-size="34">20</text>
<text transform="translate(1164.29 866.5) scale(1.0132 1)" font-size="34">0</text>
<text transform="translate(1206.9 559.57) rotate(90) scale(0.9738 1)" font-size="35">Intensity ( a.u.)</text>
<text transform="translate(1478.50 505.9) scale(1.0348 1)" font-size="28.2">3D</text>
<text transform="translate(1386.21 620.4) scale(1.0437 1)" font-size="28.2">2D</text>
<text transform="translate(1784.63 494.6) scale(1.0089 1)" font-size="28.2">Control</text>
<text transform="translate(1785.40 529.5) scale(0.9818 1)" font-size="28.2">DCl</text>
<text transform="translate(1312.03 897.8) scale(0.9952 1)" font-size="33.5">0.5</text>
<text transform="translate(1472.99 897.8) scale(0.9879 1)" font-size="33.5">1.0</text>
<text transform="translate(1632.30 897.8) scale(0.9861 1)" font-size="33.5">1.5</text>
<text transform="translate(1790.57 897.8) scale(1.0376 1)" font-size="33.5">2.0</text>
<text transform="translate(1550.54 933.4) scale(0.9928 1)" font-size="35">q<tspan font-size="24.5" dy="6.0">x</tspan><tspan dy="-6.0"> (Å</tspan><tspan font-size="21.7" dy="-13.7">−1</tspan><tspan dy="13.7">)</tspan></text>
<text transform="translate(1304.2 762.92) rotate(-90) scale(0.9675 1)" font-size="35">Intensity (a.u.)</text>
<text transform="translate(111.01 1025.9) scale(0.9548 1)" font-size="35.5" fill="#fff">Control</text>
<text transform="translate(584.03 1027.3) scale(0.9470 1)" font-size="35.5" fill="#fff">DCl</text>
<text transform="translate(328.06 1027.3) scale(0.9414 1)" font-size="35.5" fill="#fff">1457.9 cm<tspan font-size="23.4" dy="-10.7"> −1</tspan></text>
<text transform="translate(796.06 1027.3) scale(0.9425 1)" font-size="35.5" fill="#fff">1457.9 cm<tspan font-size="23.4" dy="-10.7"> −1</tspan></text>
<text transform="translate(88.02 1444) scale(1.0382 1)" font-size="35">0</text>
<text transform="translate(178.79 1444) scale(0.9842 1)" font-size="35">0.5</text>
<text transform="translate(283.03 1444) scale(0.9964 1)" font-size="35">1.0</text>
<text transform="translate(387.79 1444) scale(0.9795 1)" font-size="35">1.5</text>
<text transform="translate(490.02 1444) scale(1.0274 1)" font-size="35">2.0</text>
<text transform="translate(559.27 1444) scale(1.0719 1)" font-size="35">0</text>
<text transform="translate(650.08 1444) scale(0.9939 1)" font-size="35">0.5</text>
<text transform="translate(754.20 1444) scale(1.0091 1)" font-size="35">1.0</text>
<text transform="translate(859.29 1444) scale(0.9464 1)" font-size="35">1.5</text>
<text transform="translate(961.43 1444) scale(1.0225 1)" font-size="35">2.0</text>
<text transform="translate(269.95 1488.2) scale(1.0102 1)" font-size="35">(μm)</text>
<text transform="translate(741.55 1488.2) scale(1.0102 1)" font-size="35">(μm)</text>
<text transform="translate(82.7 1412.91) rotate(-90) scale(1.0584 1)" font-size="35">0</text>
<text transform="translate(82.7 1322.40) rotate(-90) scale(0.9769 1)" font-size="35">0.5</text>
<text transform="translate(82.7 1215.98) rotate(-90) scale(0.9685 1)" font-size="35">1.0</text>
<text transform="translate(82.7 1113.39) rotate(-90) scale(1.0354 1)" font-size="35">1.5</text>
<text transform="translate(82.7 1009.75) rotate(-90) scale(1.0079 1)" font-size="35">2.0</text>
<text transform="translate(42 1230.64) rotate(-90) scale(0.9997 1)" font-size="35">(μm)</text>
<text transform="translate(1064.7 1023.58) rotate(-90) scale(0.9574 1)" font-size="35">0.5</text>
<text transform="translate(1068.9 1191.35) rotate(-90) scale(1.0112 1)" font-size="35">0</text>
<text transform="translate(1064.7 1401.95) rotate(-90) scale(1.0037 1)" font-size="35">−0.5</text>
<text transform="translate(1103.7 1306.25) rotate(-90) scale(0.9757 1)" font-size="35.5">IR intensity (mV)</text>
<text transform="translate(1246.57 1418.8) scale(0.9972 1)" font-size="35">C<tspan font-size="24.5" dy="7.0">6</tspan><tspan dy="-7.0">H</tspan><tspan font-size="24.5" dy="7.0">13</tspan><tspan dy="-7.0">N</tspan><tspan font-size="24.5" dy="7.0">2</tspan><tspan font-size="24.5" dy="-18.6">+</tspan></text>
<text transform="translate(1677.24 1418.8) scale(1.0146 1)" font-size="35">Cl<tspan font-size="24.5" dy="-11.6">−</tspan></text>
</g>
</svg>
</body>
</html>
